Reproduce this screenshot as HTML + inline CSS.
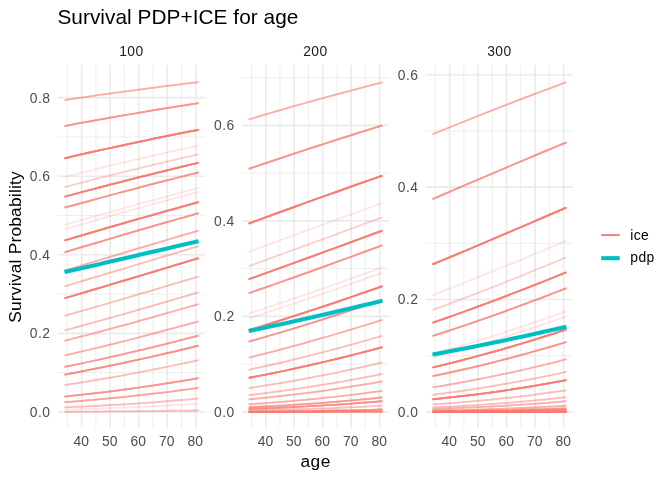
<!DOCTYPE html>
<html><head><meta charset="utf-8"><title>Survival PDP+ICE for age</title>
<style>html,body{margin:0;padding:0;background:#fff}svg{display:block}</style></head>
<body>
<svg width="672" height="480" viewBox="0 0 672 480" font-family="'Liberation Sans', sans-serif">
<rect width="672" height="480" fill="#fff"/>
<g stroke="#ebebeb"><line x1="57.8" x2="205.3" y1="372.59" y2="372.59" stroke-width="0.84"/><line x1="57.8" x2="205.3" y1="294.05" y2="294.05" stroke-width="0.84"/><line x1="57.8" x2="205.3" y1="215.51" y2="215.51" stroke-width="0.84"/><line x1="57.8" x2="205.3" y1="136.97" y2="136.97" stroke-width="0.84"/><line x1="67.36" x2="67.36" y1="65.0" y2="428.15" stroke-width="0.84"/><line x1="95.89" x2="95.89" y1="65.0" y2="428.15" stroke-width="0.84"/><line x1="124.42" x2="124.42" y1="65.0" y2="428.15" stroke-width="0.84"/><line x1="152.95" x2="152.95" y1="65.0" y2="428.15" stroke-width="0.84"/><line x1="181.48" x2="181.48" y1="65.0" y2="428.15" stroke-width="0.84"/><line x1="57.8" x2="205.3" y1="411.86" y2="411.86" stroke-width="1.68"/><line x1="57.8" x2="205.3" y1="333.32" y2="333.32" stroke-width="1.68"/><line x1="57.8" x2="205.3" y1="254.78" y2="254.78" stroke-width="1.68"/><line x1="57.8" x2="205.3" y1="176.24" y2="176.24" stroke-width="1.68"/><line x1="57.8" x2="205.3" y1="97.70" y2="97.70" stroke-width="1.68"/><line x1="81.62" x2="81.62" y1="65.0" y2="428.15" stroke-width="1.68"/><line x1="110.15" x2="110.15" y1="65.0" y2="428.15" stroke-width="1.68"/><line x1="138.68" x2="138.68" y1="65.0" y2="428.15" stroke-width="1.68"/><line x1="167.21" x2="167.21" y1="65.0" y2="428.15" stroke-width="1.68"/><line x1="195.74" x2="195.74" y1="65.0" y2="428.15" stroke-width="1.68"/></g>
<g stroke="#ebebeb"><line x1="242.0" x2="389.1" y1="364.10" y2="364.10" stroke-width="0.84"/><line x1="242.0" x2="389.1" y1="268.58" y2="268.58" stroke-width="0.84"/><line x1="242.0" x2="389.1" y1="173.06" y2="173.06" stroke-width="0.84"/><line x1="242.0" x2="389.1" y1="77.54" y2="77.54" stroke-width="0.84"/><line x1="251.53" x2="251.53" y1="65.0" y2="428.15" stroke-width="0.84"/><line x1="279.98" x2="279.98" y1="65.0" y2="428.15" stroke-width="0.84"/><line x1="308.44" x2="308.44" y1="65.0" y2="428.15" stroke-width="0.84"/><line x1="336.89" x2="336.89" y1="65.0" y2="428.15" stroke-width="0.84"/><line x1="365.34" x2="365.34" y1="65.0" y2="428.15" stroke-width="0.84"/><line x1="242.0" x2="389.1" y1="411.86" y2="411.86" stroke-width="1.68"/><line x1="242.0" x2="389.1" y1="316.34" y2="316.34" stroke-width="1.68"/><line x1="242.0" x2="389.1" y1="220.82" y2="220.82" stroke-width="1.68"/><line x1="242.0" x2="389.1" y1="125.30" y2="125.30" stroke-width="1.68"/><line x1="265.76" x2="265.76" y1="65.0" y2="428.15" stroke-width="1.68"/><line x1="294.21" x2="294.21" y1="65.0" y2="428.15" stroke-width="1.68"/><line x1="322.66" x2="322.66" y1="65.0" y2="428.15" stroke-width="1.68"/><line x1="351.12" x2="351.12" y1="65.0" y2="428.15" stroke-width="1.68"/><line x1="379.57" x2="379.57" y1="65.0" y2="428.15" stroke-width="1.68"/></g>
<g stroke="#ebebeb"><line x1="425.8" x2="573.1" y1="355.67" y2="355.67" stroke-width="0.84"/><line x1="425.8" x2="573.1" y1="243.29" y2="243.29" stroke-width="0.84"/><line x1="425.8" x2="573.1" y1="130.91" y2="130.91" stroke-width="0.84"/><line x1="435.34" x2="435.34" y1="65.0" y2="428.15" stroke-width="0.84"/><line x1="463.84" x2="463.84" y1="65.0" y2="428.15" stroke-width="0.84"/><line x1="492.33" x2="492.33" y1="65.0" y2="428.15" stroke-width="0.84"/><line x1="520.82" x2="520.82" y1="65.0" y2="428.15" stroke-width="0.84"/><line x1="549.31" x2="549.31" y1="65.0" y2="428.15" stroke-width="0.84"/><line x1="425.8" x2="573.1" y1="411.86" y2="411.86" stroke-width="1.68"/><line x1="425.8" x2="573.1" y1="299.48" y2="299.48" stroke-width="1.68"/><line x1="425.8" x2="573.1" y1="187.10" y2="187.10" stroke-width="1.68"/><line x1="425.8" x2="573.1" y1="74.72" y2="74.72" stroke-width="1.68"/><line x1="449.59" x2="449.59" y1="65.0" y2="428.15" stroke-width="1.68"/><line x1="478.08" x2="478.08" y1="65.0" y2="428.15" stroke-width="1.68"/><line x1="506.57" x2="506.57" y1="65.0" y2="428.15" stroke-width="1.68"/><line x1="535.06" x2="535.06" y1="65.0" y2="428.15" stroke-width="1.68"/><line x1="563.56" x2="563.56" y1="65.0" y2="428.15" stroke-width="1.68"/></g>
<g fill="none" stroke="#F8766D" stroke-opacity="0.2" stroke-width="1.75"><polyline points="64.50,100.07 75.68,98.41 86.85,96.78 98.03,95.19 109.20,93.62 120.38,92.08 131.55,90.56 142.72,89.08 153.90,87.62 165.07,86.19 176.25,84.79 187.42,83.42 198.60,82.07"/><polyline points="64.50,100.07 75.68,98.41 86.85,96.78 98.03,95.19 109.20,93.62 120.38,92.08 131.55,90.56 142.72,89.08 153.90,87.62 165.07,86.19 176.25,84.79 187.42,83.42 198.60,82.07"/><polyline points="64.50,100.07 75.68,98.41 86.85,96.78 98.03,95.19 109.20,93.62 120.38,92.08 131.55,90.56 142.72,89.08 153.90,87.62 165.07,86.19 176.25,84.79 187.42,83.42 198.60,82.07"/><polyline points="64.50,100.07 75.68,98.41 86.85,96.78 98.03,95.19 109.20,93.62 120.38,92.08 131.55,90.56 142.72,89.08 153.90,87.62 165.07,86.19 176.25,84.79 187.42,83.42 198.60,82.07"/><polyline points="64.50,126.06 75.68,123.97 86.85,121.90 98.03,119.88 109.20,117.88 120.38,115.92 131.55,113.99 142.72,112.09 153.90,110.22 165.07,108.39 176.25,106.59 187.42,104.82 198.60,103.08"/><polyline points="64.50,126.06 75.68,123.97 86.85,121.90 98.03,119.88 109.20,117.88 120.38,115.92 131.55,113.99 142.72,112.09 153.90,110.22 165.07,108.39 176.25,106.59 187.42,104.82 198.60,103.08"/><polyline points="64.50,126.06 75.68,123.97 86.85,121.90 98.03,119.88 109.20,117.88 120.38,115.92 131.55,113.99 142.72,112.09 153.90,110.22 165.07,108.39 176.25,106.59 187.42,104.82 198.60,103.08"/><polyline points="64.50,126.06 75.68,123.97 86.85,121.90 98.03,119.88 109.20,117.88 120.38,115.92 131.55,113.99 142.72,112.09 153.90,110.22 165.07,108.39 176.25,106.59 187.42,104.82 198.60,103.08"/><polyline points="64.50,126.06 75.68,123.97 86.85,121.90 98.03,119.88 109.20,117.88 120.38,115.92 131.55,113.99 142.72,112.09 153.90,110.22 165.07,108.39 176.25,106.59 187.42,104.82 198.60,103.08"/><polyline points="64.50,126.06 75.68,123.97 86.85,121.90 98.03,119.88 109.20,117.88 120.38,115.92 131.55,113.99 142.72,112.09 153.90,110.22 165.07,108.39 176.25,106.59 187.42,104.82 198.60,103.08"/><polyline points="64.50,126.06 75.68,123.97 86.85,121.90 98.03,119.88 109.20,117.88 120.38,115.92 131.55,113.99 142.72,112.09 153.90,110.22 165.07,108.39 176.25,106.59 187.42,104.82 198.60,103.08"/><polyline points="64.50,158.28 75.68,155.72 86.85,153.19 98.03,150.69 109.20,148.23 120.38,145.81 131.55,143.41 142.72,141.06 153.90,138.73 165.07,136.44 176.25,134.19 187.42,131.97 198.60,129.78"/><polyline points="64.50,158.28 75.68,155.72 86.85,153.19 98.03,150.69 109.20,148.23 120.38,145.81 131.55,143.41 142.72,141.06 153.90,138.73 165.07,136.44 176.25,134.19 187.42,131.97 198.60,129.78"/><polyline points="64.50,158.28 75.68,155.72 86.85,153.19 98.03,150.69 109.20,148.23 120.38,145.81 131.55,143.41 142.72,141.06 153.90,138.73 165.07,136.44 176.25,134.19 187.42,131.97 198.60,129.78"/><polyline points="64.50,158.28 75.68,155.72 86.85,153.19 98.03,150.69 109.20,148.23 120.38,145.81 131.55,143.41 142.72,141.06 153.90,138.73 165.07,136.44 176.25,134.19 187.42,131.97 198.60,129.78"/><polyline points="64.50,158.28 75.68,155.72 86.85,153.19 98.03,150.69 109.20,148.23 120.38,145.81 131.55,143.41 142.72,141.06 153.90,138.73 165.07,136.44 176.25,134.19 187.42,131.97 198.60,129.78"/><polyline points="64.50,158.28 75.68,155.72 86.85,153.19 98.03,150.69 109.20,148.23 120.38,145.81 131.55,143.41 142.72,141.06 153.90,138.73 165.07,136.44 176.25,134.19 187.42,131.97 198.60,129.78"/><polyline points="64.50,158.28 75.68,155.72 86.85,153.19 98.03,150.69 109.20,148.23 120.38,145.81 131.55,143.41 142.72,141.06 153.90,138.73 165.07,136.44 176.25,134.19 187.42,131.97 198.60,129.78"/><polyline points="64.50,158.28 75.68,155.72 86.85,153.19 98.03,150.69 109.20,148.23 120.38,145.81 131.55,143.41 142.72,141.06 153.90,138.73 165.07,136.44 176.25,134.19 187.42,131.97 198.60,129.78"/><polyline points="64.50,158.28 75.68,155.72 86.85,153.19 98.03,150.69 109.20,148.23 120.38,145.81 131.55,143.41 142.72,141.06 153.90,138.73 165.07,136.44 176.25,134.19 187.42,131.97 198.60,129.78"/><polyline points="64.50,158.28 75.68,155.72 86.85,153.19 98.03,150.69 109.20,148.23 120.38,145.81 131.55,143.41 142.72,141.06 153.90,138.73 165.07,136.44 176.25,134.19 187.42,131.97 198.60,129.78"/><polyline points="64.50,158.28 75.68,155.72 86.85,153.19 98.03,150.69 109.20,148.23 120.38,145.81 131.55,143.41 142.72,141.06 153.90,138.73 165.07,136.44 176.25,134.19 187.42,131.97 198.60,129.78"/><polyline points="64.50,158.28 75.68,155.72 86.85,153.19 98.03,150.69 109.20,148.23 120.38,145.81 131.55,143.41 142.72,141.06 153.90,138.73 165.07,136.44 176.25,134.19 187.42,131.97 198.60,129.78"/><polyline points="64.50,158.28 75.68,155.72 86.85,153.19 98.03,150.69 109.20,148.23 120.38,145.81 131.55,143.41 142.72,141.06 153.90,138.73 165.07,136.44 176.25,134.19 187.42,131.97 198.60,129.78"/><polyline points="64.50,158.28 75.68,155.72 86.85,153.19 98.03,150.69 109.20,148.23 120.38,145.81 131.55,143.41 142.72,141.06 153.90,138.73 165.07,136.44 176.25,134.19 187.42,131.97 198.60,129.78"/><polyline points="64.50,176.90 75.68,174.11 86.85,171.35 98.03,168.62 109.20,165.93 120.38,163.27 131.55,160.64 142.72,158.04 153.90,155.48 165.07,152.96 176.25,150.47 187.42,148.01 198.60,145.59"/><polyline points="64.50,187.06 75.68,184.16 86.85,181.29 98.03,178.45 109.20,175.64 120.38,172.86 131.55,170.11 142.72,167.40 153.90,164.72 165.07,162.08 176.25,159.46 187.42,156.89 198.60,154.34"/><polyline points="64.50,187.06 75.68,184.16 86.85,181.29 98.03,178.45 109.20,175.64 120.38,172.86 131.55,170.11 142.72,167.40 153.90,164.72 165.07,162.08 176.25,159.46 187.42,156.89 198.60,154.34"/><polyline points="64.50,196.73 75.68,193.73 86.85,190.76 98.03,187.82 109.20,184.91 120.38,182.03 131.55,179.18 142.72,176.36 153.90,173.58 165.07,170.82 176.25,168.10 187.42,165.42 198.60,162.76"/><polyline points="64.50,196.73 75.68,193.73 86.85,190.76 98.03,187.82 109.20,184.91 120.38,182.03 131.55,179.18 142.72,176.36 153.90,173.58 165.07,170.82 176.25,168.10 187.42,165.42 198.60,162.76"/><polyline points="64.50,196.73 75.68,193.73 86.85,190.76 98.03,187.82 109.20,184.91 120.38,182.03 131.55,179.18 142.72,176.36 153.90,173.58 165.07,170.82 176.25,168.10 187.42,165.42 198.60,162.76"/><polyline points="64.50,196.73 75.68,193.73 86.85,190.76 98.03,187.82 109.20,184.91 120.38,182.03 131.55,179.18 142.72,176.36 153.90,173.58 165.07,170.82 176.25,168.10 187.42,165.42 198.60,162.76"/><polyline points="64.50,196.73 75.68,193.73 86.85,190.76 98.03,187.82 109.20,184.91 120.38,182.03 131.55,179.18 142.72,176.36 153.90,173.58 165.07,170.82 176.25,168.10 187.42,165.42 198.60,162.76"/><polyline points="64.50,196.73 75.68,193.73 86.85,190.76 98.03,187.82 109.20,184.91 120.38,182.03 131.55,179.18 142.72,176.36 153.90,173.58 165.07,170.82 176.25,168.10 187.42,165.42 198.60,162.76"/><polyline points="64.50,196.73 75.68,193.73 86.85,190.76 98.03,187.82 109.20,184.91 120.38,182.03 131.55,179.18 142.72,176.36 153.90,173.58 165.07,170.82 176.25,168.10 187.42,165.42 198.60,162.76"/><polyline points="64.50,196.73 75.68,193.73 86.85,190.76 98.03,187.82 109.20,184.91 120.38,182.03 131.55,179.18 142.72,176.36 153.90,173.58 165.07,170.82 176.25,168.10 187.42,165.42 198.60,162.76"/><polyline points="64.50,196.73 75.68,193.73 86.85,190.76 98.03,187.82 109.20,184.91 120.38,182.03 131.55,179.18 142.72,176.36 153.90,173.58 165.07,170.82 176.25,168.10 187.42,165.42 198.60,162.76"/><polyline points="64.50,196.73 75.68,193.73 86.85,190.76 98.03,187.82 109.20,184.91 120.38,182.03 131.55,179.18 142.72,176.36 153.90,173.58 165.07,170.82 176.25,168.10 187.42,165.42 198.60,162.76"/><polyline points="64.50,196.73 75.68,193.73 86.85,190.76 98.03,187.82 109.20,184.91 120.38,182.03 131.55,179.18 142.72,176.36 153.90,173.58 165.07,170.82 176.25,168.10 187.42,165.42 198.60,162.76"/><polyline points="64.50,196.73 75.68,193.73 86.85,190.76 98.03,187.82 109.20,184.91 120.38,182.03 131.55,179.18 142.72,176.36 153.90,173.58 165.07,170.82 176.25,168.10 187.42,165.42 198.60,162.76"/><polyline points="64.50,196.73 75.68,193.73 86.85,190.76 98.03,187.82 109.20,184.91 120.38,182.03 131.55,179.18 142.72,176.36 153.90,173.58 165.07,170.82 176.25,168.10 187.42,165.42 198.60,162.76"/><polyline points="64.50,207.71 75.68,204.62 86.85,201.55 98.03,198.51 109.20,195.49 120.38,192.50 131.55,189.55 142.72,186.62 153.90,183.72 165.07,180.85 176.25,178.02 187.42,175.21 198.60,172.44"/><polyline points="64.50,207.71 75.68,204.62 86.85,201.55 98.03,198.51 109.20,195.49 120.38,192.50 131.55,189.55 142.72,186.62 153.90,183.72 165.07,180.85 176.25,178.02 187.42,175.21 198.60,172.44"/><polyline points="64.50,207.71 75.68,204.62 86.85,201.55 98.03,198.51 109.20,195.49 120.38,192.50 131.55,189.55 142.72,186.62 153.90,183.72 165.07,180.85 176.25,178.02 187.42,175.21 198.60,172.44"/><polyline points="64.50,207.71 75.68,204.62 86.85,201.55 98.03,198.51 109.20,195.49 120.38,192.50 131.55,189.55 142.72,186.62 153.90,183.72 165.07,180.85 176.25,178.02 187.42,175.21 198.60,172.44"/><polyline points="64.50,207.71 75.68,204.62 86.85,201.55 98.03,198.51 109.20,195.49 120.38,192.50 131.55,189.55 142.72,186.62 153.90,183.72 165.07,180.85 176.25,178.02 187.42,175.21 198.60,172.44"/><polyline points="64.50,207.71 75.68,204.62 86.85,201.55 98.03,198.51 109.20,195.49 120.38,192.50 131.55,189.55 142.72,186.62 153.90,183.72 165.07,180.85 176.25,178.02 187.42,175.21 198.60,172.44"/><polyline points="64.50,207.71 75.68,204.62 86.85,201.55 98.03,198.51 109.20,195.49 120.38,192.50 131.55,189.55 142.72,186.62 153.90,183.72 165.07,180.85 176.25,178.02 187.42,175.21 198.60,172.44"/><polyline points="64.50,224.99 75.68,221.76 86.85,218.57 98.03,215.39 109.20,212.23 120.38,209.10 131.55,205.99 142.72,202.91 153.90,199.86 165.07,196.83 176.25,193.83 187.42,190.86 198.60,187.92"/><polyline points="64.50,229.29 75.68,226.04 86.85,222.81 98.03,219.61 109.20,216.42 120.38,213.26 131.55,210.12 142.72,207.00 153.90,203.91 165.07,200.85 176.25,197.81 187.42,194.81 198.60,191.82"/><polyline points="64.50,240.49 75.68,237.19 86.85,233.91 98.03,230.63 109.20,227.38 120.38,224.15 131.55,220.93 142.72,217.74 153.90,214.57 165.07,211.42 176.25,208.29 187.42,205.19 198.60,202.12"/><polyline points="64.50,240.49 75.68,237.19 86.85,233.91 98.03,230.63 109.20,227.38 120.38,224.15 131.55,220.93 142.72,217.74 153.90,214.57 165.07,211.42 176.25,208.29 187.42,205.19 198.60,202.12"/><polyline points="64.50,240.49 75.68,237.19 86.85,233.91 98.03,230.63 109.20,227.38 120.38,224.15 131.55,220.93 142.72,217.74 153.90,214.57 165.07,211.42 176.25,208.29 187.42,205.19 198.60,202.12"/><polyline points="64.50,240.49 75.68,237.19 86.85,233.91 98.03,230.63 109.20,227.38 120.38,224.15 131.55,220.93 142.72,217.74 153.90,214.57 165.07,211.42 176.25,208.29 187.42,205.19 198.60,202.12"/><polyline points="64.50,240.49 75.68,237.19 86.85,233.91 98.03,230.63 109.20,227.38 120.38,224.15 131.55,220.93 142.72,217.74 153.90,214.57 165.07,211.42 176.25,208.29 187.42,205.19 198.60,202.12"/><polyline points="64.50,240.49 75.68,237.19 86.85,233.91 98.03,230.63 109.20,227.38 120.38,224.15 131.55,220.93 142.72,217.74 153.90,214.57 165.07,211.42 176.25,208.29 187.42,205.19 198.60,202.12"/><polyline points="64.50,240.49 75.68,237.19 86.85,233.91 98.03,230.63 109.20,227.38 120.38,224.15 131.55,220.93 142.72,217.74 153.90,214.57 165.07,211.42 176.25,208.29 187.42,205.19 198.60,202.12"/><polyline points="64.50,240.49 75.68,237.19 86.85,233.91 98.03,230.63 109.20,227.38 120.38,224.15 131.55,220.93 142.72,217.74 153.90,214.57 165.07,211.42 176.25,208.29 187.42,205.19 198.60,202.12"/><polyline points="64.50,240.49 75.68,237.19 86.85,233.91 98.03,230.63 109.20,227.38 120.38,224.15 131.55,220.93 142.72,217.74 153.90,214.57 165.07,211.42 176.25,208.29 187.42,205.19 198.60,202.12"/><polyline points="64.50,240.49 75.68,237.19 86.85,233.91 98.03,230.63 109.20,227.38 120.38,224.15 131.55,220.93 142.72,217.74 153.90,214.57 165.07,211.42 176.25,208.29 187.42,205.19 198.60,202.12"/><polyline points="64.50,240.49 75.68,237.19 86.85,233.91 98.03,230.63 109.20,227.38 120.38,224.15 131.55,220.93 142.72,217.74 153.90,214.57 165.07,211.42 176.25,208.29 187.42,205.19 198.60,202.12"/><polyline points="64.50,240.49 75.68,237.19 86.85,233.91 98.03,230.63 109.20,227.38 120.38,224.15 131.55,220.93 142.72,217.74 153.90,214.57 165.07,211.42 176.25,208.29 187.42,205.19 198.60,202.12"/><polyline points="64.50,240.49 75.68,237.19 86.85,233.91 98.03,230.63 109.20,227.38 120.38,224.15 131.55,220.93 142.72,217.74 153.90,214.57 165.07,211.42 176.25,208.29 187.42,205.19 198.60,202.12"/><polyline points="64.50,252.29 75.68,248.94 86.85,245.61 98.03,242.29 109.20,238.98 120.38,235.69 131.55,232.41 142.72,229.15 153.90,225.90 165.07,222.68 176.25,219.47 187.42,216.29 198.60,213.12"/><polyline points="64.50,252.29 75.68,248.94 86.85,245.61 98.03,242.29 109.20,238.98 120.38,235.69 131.55,232.41 142.72,229.15 153.90,225.90 165.07,222.68 176.25,219.47 187.42,216.29 198.60,213.12"/><polyline points="64.50,252.29 75.68,248.94 86.85,245.61 98.03,242.29 109.20,238.98 120.38,235.69 131.55,232.41 142.72,229.15 153.90,225.90 165.07,222.68 176.25,219.47 187.42,216.29 198.60,213.12"/><polyline points="64.50,252.29 75.68,248.94 86.85,245.61 98.03,242.29 109.20,238.98 120.38,235.69 131.55,232.41 142.72,229.15 153.90,225.90 165.07,222.68 176.25,219.47 187.42,216.29 198.60,213.12"/><polyline points="64.50,252.29 75.68,248.94 86.85,245.61 98.03,242.29 109.20,238.98 120.38,235.69 131.55,232.41 142.72,229.15 153.90,225.90 165.07,222.68 176.25,219.47 187.42,216.29 198.60,213.12"/><polyline points="64.50,252.29 75.68,248.94 86.85,245.61 98.03,242.29 109.20,238.98 120.38,235.69 131.55,232.41 142.72,229.15 153.90,225.90 165.07,222.68 176.25,219.47 187.42,216.29 198.60,213.12"/><polyline points="64.50,252.29 75.68,248.94 86.85,245.61 98.03,242.29 109.20,238.98 120.38,235.69 131.55,232.41 142.72,229.15 153.90,225.90 165.07,222.68 176.25,219.47 187.42,216.29 198.60,213.12"/><polyline points="64.50,270.60 75.68,267.24 86.85,263.87 98.03,260.51 109.20,257.16 120.38,253.80 131.55,250.46 142.72,247.12 153.90,243.80 165.07,240.48 176.25,237.18 187.42,233.89 198.60,230.62"/><polyline points="64.50,270.60 75.68,267.24 86.85,263.87 98.03,260.51 109.20,257.16 120.38,253.80 131.55,250.46 142.72,247.12 153.90,243.80 165.07,240.48 176.25,237.18 187.42,233.89 198.60,230.62"/><polyline points="64.50,270.60 75.68,267.24 86.85,263.87 98.03,260.51 109.20,257.16 120.38,253.80 131.55,250.46 142.72,247.12 153.90,243.80 165.07,240.48 176.25,237.18 187.42,233.89 198.60,230.62"/><polyline points="64.50,270.60 75.68,267.24 86.85,263.87 98.03,260.51 109.20,257.16 120.38,253.80 131.55,250.46 142.72,247.12 153.90,243.80 165.07,240.48 176.25,237.18 187.42,233.89 198.60,230.62"/><polyline points="64.50,286.36 75.68,283.03 86.85,279.68 98.03,276.32 109.20,272.96 120.38,269.60 131.55,266.24 142.72,262.87 153.90,259.51 165.07,256.16 176.25,252.81 187.42,249.46 198.60,246.13"/><polyline points="64.50,286.36 75.68,283.03 86.85,279.68 98.03,276.32 109.20,272.96 120.38,269.60 131.55,266.24 142.72,262.87 153.90,259.51 165.07,256.16 176.25,252.81 187.42,249.46 198.60,246.13"/><polyline points="64.50,286.36 75.68,283.03 86.85,279.68 98.03,276.32 109.20,272.96 120.38,269.60 131.55,266.24 142.72,262.87 153.90,259.51 165.07,256.16 176.25,252.81 187.42,249.46 198.60,246.13"/><polyline points="64.50,298.27 75.68,294.98 86.85,291.68 98.03,288.36 109.20,285.02 120.38,281.68 131.55,278.33 142.72,274.97 153.90,271.61 165.07,268.25 176.25,264.89 187.42,261.52 198.60,258.16"/><polyline points="64.50,298.27 75.68,294.98 86.85,291.68 98.03,288.36 109.20,285.02 120.38,281.68 131.55,278.33 142.72,274.97 153.90,271.61 165.07,268.25 176.25,264.89 187.42,261.52 198.60,258.16"/><polyline points="64.50,298.27 75.68,294.98 86.85,291.68 98.03,288.36 109.20,285.02 120.38,281.68 131.55,278.33 142.72,274.97 153.90,271.61 165.07,268.25 176.25,264.89 187.42,261.52 198.60,258.16"/><polyline points="64.50,298.27 75.68,294.98 86.85,291.68 98.03,288.36 109.20,285.02 120.38,281.68 131.55,278.33 142.72,274.97 153.90,271.61 165.07,268.25 176.25,264.89 187.42,261.52 198.60,258.16"/><polyline points="64.50,298.27 75.68,294.98 86.85,291.68 98.03,288.36 109.20,285.02 120.38,281.68 131.55,278.33 142.72,274.97 153.90,271.61 165.07,268.25 176.25,264.89 187.42,261.52 198.60,258.16"/><polyline points="64.50,298.27 75.68,294.98 86.85,291.68 98.03,288.36 109.20,285.02 120.38,281.68 131.55,278.33 142.72,274.97 153.90,271.61 165.07,268.25 176.25,264.89 187.42,261.52 198.60,258.16"/><polyline points="64.50,298.27 75.68,294.98 86.85,291.68 98.03,288.36 109.20,285.02 120.38,281.68 131.55,278.33 142.72,274.97 153.90,271.61 165.07,268.25 176.25,264.89 187.42,261.52 198.60,258.16"/><polyline points="64.50,298.27 75.68,294.98 86.85,291.68 98.03,288.36 109.20,285.02 120.38,281.68 131.55,278.33 142.72,274.97 153.90,271.61 165.07,268.25 176.25,264.89 187.42,261.52 198.60,258.16"/><polyline points="64.50,298.27 75.68,294.98 86.85,291.68 98.03,288.36 109.20,285.02 120.38,281.68 131.55,278.33 142.72,274.97 153.90,271.61 165.07,268.25 176.25,264.89 187.42,261.52 198.60,258.16"/><polyline points="64.50,298.27 75.68,294.98 86.85,291.68 98.03,288.36 109.20,285.02 120.38,281.68 131.55,278.33 142.72,274.97 153.90,271.61 165.07,268.25 176.25,264.89 187.42,261.52 198.60,258.16"/><polyline points="64.50,298.27 75.68,294.98 86.85,291.68 98.03,288.36 109.20,285.02 120.38,281.68 131.55,278.33 142.72,274.97 153.90,271.61 165.07,268.25 176.25,264.89 187.42,261.52 198.60,258.16"/><polyline points="64.50,298.27 75.68,294.98 86.85,291.68 98.03,288.36 109.20,285.02 120.38,281.68 131.55,278.33 142.72,274.97 153.90,271.61 165.07,268.25 176.25,264.89 187.42,261.52 198.60,258.16"/><polyline points="64.50,298.27 75.68,294.98 86.85,291.68 98.03,288.36 109.20,285.02 120.38,281.68 131.55,278.33 142.72,274.97 153.90,271.61 165.07,268.25 176.25,264.89 187.42,261.52 198.60,258.16"/><polyline points="64.50,315.82 75.68,312.65 86.85,309.46 98.03,306.24 109.20,303.00 120.38,299.73 131.55,296.45 142.72,293.15 153.90,289.84 165.07,286.51 176.25,283.17 187.42,279.82 198.60,276.47"/><polyline points="64.50,315.82 75.68,312.65 86.85,309.46 98.03,306.24 109.20,303.00 120.38,299.73 131.55,296.45 142.72,293.15 153.90,289.84 165.07,286.51 176.25,283.17 187.42,279.82 198.60,276.47"/><polyline points="64.50,315.82 75.68,312.65 86.85,309.46 98.03,306.24 109.20,303.00 120.38,299.73 131.55,296.45 142.72,293.15 153.90,289.84 165.07,286.51 176.25,283.17 187.42,279.82 198.60,276.47"/><polyline points="64.50,330.38 75.68,327.38 86.85,324.33 98.03,321.25 109.20,318.14 120.38,315.00 131.55,311.83 142.72,308.63 153.90,305.40 165.07,302.15 176.25,298.88 187.42,295.60 198.60,292.29"/><polyline points="64.50,330.38 75.68,327.38 86.85,324.33 98.03,321.25 109.20,318.14 120.38,315.00 131.55,311.83 142.72,308.63 153.90,305.40 165.07,302.15 176.25,298.88 187.42,295.60 198.60,292.29"/><polyline points="64.50,330.38 75.68,327.38 86.85,324.33 98.03,321.25 109.20,318.14 120.38,315.00 131.55,311.83 142.72,308.63 153.90,305.40 165.07,302.15 176.25,298.88 187.42,295.60 198.60,292.29"/><polyline points="64.50,340.81 75.68,337.95 86.85,335.05 98.03,332.11 109.20,329.13 120.38,326.11 131.55,323.05 142.72,319.96 153.90,316.83 165.07,313.68 176.25,310.49 187.42,307.28 198.60,304.05"/><polyline points="64.50,340.81 75.68,337.95 86.85,335.05 98.03,332.11 109.20,329.13 120.38,326.11 131.55,323.05 142.72,319.96 153.90,316.83 165.07,313.68 176.25,310.49 187.42,307.28 198.60,304.05"/><polyline points="64.50,340.81 75.68,337.95 86.85,335.05 98.03,332.11 109.20,329.13 120.38,326.11 131.55,323.05 142.72,319.96 153.90,316.83 165.07,313.68 176.25,310.49 187.42,307.28 198.60,304.05"/><polyline points="64.50,340.81 75.68,337.95 86.85,335.05 98.03,332.11 109.20,329.13 120.38,326.11 131.55,323.05 142.72,319.96 153.90,316.83 165.07,313.68 176.25,310.49 187.42,307.28 198.60,304.05"/><polyline points="64.50,355.48 75.68,352.90 86.85,350.27 98.03,347.58 109.20,344.85 120.38,342.06 131.55,339.23 142.72,336.35 153.90,333.42 165.07,330.46 176.25,327.45 187.42,324.41 198.60,321.33"/><polyline points="64.50,355.48 75.68,352.90 86.85,350.27 98.03,347.58 109.20,344.85 120.38,342.06 131.55,339.23 142.72,336.35 153.90,333.42 165.07,330.46 176.25,327.45 187.42,324.41 198.60,321.33"/><polyline points="64.50,355.48 75.68,352.90 86.85,350.27 98.03,347.58 109.20,344.85 120.38,342.06 131.55,339.23 142.72,336.35 153.90,333.42 165.07,330.46 176.25,327.45 187.42,324.41 198.60,321.33"/><polyline points="64.50,355.48 75.68,352.90 86.85,350.27 98.03,347.58 109.20,344.85 120.38,342.06 131.55,339.23 142.72,336.35 153.90,333.42 165.07,330.46 176.25,327.45 187.42,324.41 198.60,321.33"/><polyline points="64.50,366.91 75.68,364.60 86.85,362.24 98.03,359.81 109.20,357.33 120.38,354.79 131.55,352.20 142.72,349.55 153.90,346.85 165.07,344.10 176.25,341.30 187.42,338.45 198.60,335.56"/><polyline points="64.50,366.91 75.68,364.60 86.85,362.24 98.03,359.81 109.20,357.33 120.38,354.79 131.55,352.20 142.72,349.55 153.90,346.85 165.07,344.10 176.25,341.30 187.42,338.45 198.60,335.56"/><polyline points="64.50,366.91 75.68,364.60 86.85,362.24 98.03,359.81 109.20,357.33 120.38,354.79 131.55,352.20 142.72,349.55 153.90,346.85 165.07,344.10 176.25,341.30 187.42,338.45 198.60,335.56"/><polyline points="64.50,366.91 75.68,364.60 86.85,362.24 98.03,359.81 109.20,357.33 120.38,354.79 131.55,352.20 142.72,349.55 153.90,346.85 165.07,344.10 176.25,341.30 187.42,338.45 198.60,335.56"/><polyline points="64.50,366.91 75.68,364.60 86.85,362.24 98.03,359.81 109.20,357.33 120.38,354.79 131.55,352.20 142.72,349.55 153.90,346.85 165.07,344.10 176.25,341.30 187.42,338.45 198.60,335.56"/><polyline points="64.50,366.91 75.68,364.60 86.85,362.24 98.03,359.81 109.20,357.33 120.38,354.79 131.55,352.20 142.72,349.55 153.90,346.85 165.07,344.10 176.25,341.30 187.42,338.45 198.60,335.56"/><polyline points="64.50,374.62 75.68,372.54 86.85,370.40 98.03,368.19 109.20,365.92 120.38,363.59 131.55,361.20 142.72,358.75 153.90,356.25 165.07,353.68 176.25,351.07 187.42,348.40 198.60,345.67"/><polyline points="64.50,374.62 75.68,372.54 86.85,370.40 98.03,368.19 109.20,365.92 120.38,363.59 131.55,361.20 142.72,358.75 153.90,356.25 165.07,353.68 176.25,351.07 187.42,348.40 198.60,345.67"/><polyline points="64.50,374.62 75.68,372.54 86.85,370.40 98.03,368.19 109.20,365.92 120.38,363.59 131.55,361.20 142.72,358.75 153.90,356.25 165.07,353.68 176.25,351.07 187.42,348.40 198.60,345.67"/><polyline points="64.50,374.62 75.68,372.54 86.85,370.40 98.03,368.19 109.20,365.92 120.38,363.59 131.55,361.20 142.72,358.75 153.90,356.25 165.07,353.68 176.25,351.07 187.42,348.40 198.60,345.67"/><polyline points="64.50,374.62 75.68,372.54 86.85,370.40 98.03,368.19 109.20,365.92 120.38,363.59 131.55,361.20 142.72,358.75 153.90,356.25 165.07,353.68 176.25,351.07 187.42,348.40 198.60,345.67"/><polyline points="64.50,374.62 75.68,372.54 86.85,370.40 98.03,368.19 109.20,365.92 120.38,363.59 131.55,361.20 142.72,358.75 153.90,356.25 165.07,353.68 176.25,351.07 187.42,348.40 198.60,345.67"/><polyline points="64.50,374.62 75.68,372.54 86.85,370.40 98.03,368.19 109.20,365.92 120.38,363.59 131.55,361.20 142.72,358.75 153.90,356.25 165.07,353.68 176.25,351.07 187.42,348.40 198.60,345.67"/><polyline points="64.50,374.62 75.68,372.54 86.85,370.40 98.03,368.19 109.20,365.92 120.38,363.59 131.55,361.20 142.72,358.75 153.90,356.25 165.07,353.68 176.25,351.07 187.42,348.40 198.60,345.67"/><polyline points="64.50,385.03 75.68,383.31 86.85,381.53 98.03,379.68 109.20,377.77 120.38,375.79 131.55,373.75 142.72,371.64 153.90,369.47 165.07,367.24 176.25,364.94 187.42,362.59 198.60,360.17"/><polyline points="64.50,385.03 75.68,383.31 86.85,381.53 98.03,379.68 109.20,377.77 120.38,375.79 131.55,373.75 142.72,371.64 153.90,369.47 165.07,367.24 176.25,364.94 187.42,362.59 198.60,360.17"/><polyline points="64.50,385.03 75.68,383.31 86.85,381.53 98.03,379.68 109.20,377.77 120.38,375.79 131.55,373.75 142.72,371.64 153.90,369.47 165.07,367.24 176.25,364.94 187.42,362.59 198.60,360.17"/><polyline points="64.50,396.66 75.68,395.47 86.85,394.21 98.03,392.90 109.20,391.52 120.38,390.08 131.55,388.57 142.72,387.00 153.90,385.36 165.07,383.66 176.25,381.89 187.42,380.06 198.60,378.15"/><polyline points="64.50,396.66 75.68,395.47 86.85,394.21 98.03,392.90 109.20,391.52 120.38,390.08 131.55,388.57 142.72,387.00 153.90,385.36 165.07,383.66 176.25,381.89 187.42,380.06 198.60,378.15"/><polyline points="64.50,396.66 75.68,395.47 86.85,394.21 98.03,392.90 109.20,391.52 120.38,390.08 131.55,388.57 142.72,387.00 153.90,385.36 165.07,383.66 176.25,381.89 187.42,380.06 198.60,378.15"/><polyline points="64.50,396.66 75.68,395.47 86.85,394.21 98.03,392.90 109.20,391.52 120.38,390.08 131.55,388.57 142.72,387.00 153.90,385.36 165.07,383.66 176.25,381.89 187.42,380.06 198.60,378.15"/><polyline points="64.50,396.66 75.68,395.47 86.85,394.21 98.03,392.90 109.20,391.52 120.38,390.08 131.55,388.57 142.72,387.00 153.90,385.36 165.07,383.66 176.25,381.89 187.42,380.06 198.60,378.15"/><polyline points="64.50,396.66 75.68,395.47 86.85,394.21 98.03,392.90 109.20,391.52 120.38,390.08 131.55,388.57 142.72,387.00 153.90,385.36 165.07,383.66 176.25,381.89 187.42,380.06 198.60,378.15"/><polyline points="64.50,396.66 75.68,395.47 86.85,394.21 98.03,392.90 109.20,391.52 120.38,390.08 131.55,388.57 142.72,387.00 153.90,385.36 165.07,383.66 176.25,381.89 187.42,380.06 198.60,378.15"/><polyline points="64.50,402.22 75.68,401.35 86.85,400.42 98.03,399.44 109.20,398.41 120.38,397.31 131.55,396.15 142.72,394.94 153.90,393.66 165.07,392.31 176.25,390.91 187.42,389.44 198.60,387.90"/><polyline points="64.50,402.22 75.68,401.35 86.85,400.42 98.03,399.44 109.20,398.41 120.38,397.31 131.55,396.15 142.72,394.94 153.90,393.66 165.07,392.31 176.25,390.91 187.42,389.44 198.60,387.90"/><polyline points="64.50,402.22 75.68,401.35 86.85,400.42 98.03,399.44 109.20,398.41 120.38,397.31 131.55,396.15 142.72,394.94 153.90,393.66 165.07,392.31 176.25,390.91 187.42,389.44 198.60,387.90"/><polyline points="64.50,402.22 75.68,401.35 86.85,400.42 98.03,399.44 109.20,398.41 120.38,397.31 131.55,396.15 142.72,394.94 153.90,393.66 165.07,392.31 176.25,390.91 187.42,389.44 198.60,387.90"/><polyline points="64.50,402.22 75.68,401.35 86.85,400.42 98.03,399.44 109.20,398.41 120.38,397.31 131.55,396.15 142.72,394.94 153.90,393.66 165.07,392.31 176.25,390.91 187.42,389.44 198.60,387.90"/><polyline points="64.50,407.46 75.68,406.96 86.85,406.43 98.03,405.85 109.20,405.23 120.38,404.57 131.55,403.85 142.72,403.09 153.90,402.28 165.07,401.41 176.25,400.49 187.42,399.51 198.60,398.48"/><polyline points="64.50,407.46 75.68,406.96 86.85,406.43 98.03,405.85 109.20,405.23 120.38,404.57 131.55,403.85 142.72,403.09 153.90,402.28 165.07,401.41 176.25,400.49 187.42,399.51 198.60,398.48"/><polyline points="64.50,407.46 75.68,406.96 86.85,406.43 98.03,405.85 109.20,405.23 120.38,404.57 131.55,403.85 142.72,403.09 153.90,402.28 165.07,401.41 176.25,400.49 187.42,399.51 198.60,398.48"/><polyline points="64.50,409.56 75.68,409.25 86.85,408.92 98.03,408.55 109.20,408.15 120.38,407.71 131.55,407.24 142.72,406.72 153.90,406.17 165.07,405.58 176.25,404.93 187.42,404.25 198.60,403.51"/><polyline points="64.50,411.75 75.68,411.70 86.85,411.64 98.03,411.57 109.20,411.49 120.38,411.40 131.55,411.30 142.72,411.18 153.90,411.05 165.07,410.90 176.25,410.74 187.42,410.56 198.60,410.36"/><polyline points="64.50,411.75 75.68,411.70 86.85,411.64 98.03,411.57 109.20,411.49 120.38,411.40 131.55,411.30 142.72,411.18 153.90,411.05 165.07,410.90 176.25,410.74 187.42,410.56 198.60,410.36"/><polyline points="64.50,411.75 75.68,411.70 86.85,411.64 98.03,411.57 109.20,411.49 120.38,411.40 131.55,411.30 142.72,411.18 153.90,411.05 165.07,410.90 176.25,410.74 187.42,410.56 198.60,410.36"/></g>
<polyline points="64.50,272.03 75.68,269.49 86.85,266.93 98.03,264.38 109.20,261.81 120.38,259.24 131.55,256.67 142.72,254.09 153.90,251.51 165.07,248.93 176.25,246.35 187.42,243.76 198.60,241.18" fill="none" stroke="#00BFC4" stroke-width="4.1"/>
<g fill="none" stroke="#F8766D" stroke-opacity="0.2" stroke-width="1.75"><polyline points="248.69,119.47 259.83,116.15 270.97,112.87 282.12,109.63 293.26,106.44 304.41,103.28 315.55,100.16 326.69,97.09 337.84,94.06 348.98,91.07 360.13,88.12 371.27,85.21 382.41,82.34"/><polyline points="248.69,119.47 259.83,116.15 270.97,112.87 282.12,109.63 293.26,106.44 304.41,103.28 315.55,100.16 326.69,97.09 337.84,94.06 348.98,91.07 360.13,88.12 371.27,85.21 382.41,82.34"/><polyline points="248.69,119.47 259.83,116.15 270.97,112.87 282.12,109.63 293.26,106.44 304.41,103.28 315.55,100.16 326.69,97.09 337.84,94.06 348.98,91.07 360.13,88.12 371.27,85.21 382.41,82.34"/><polyline points="248.69,119.47 259.83,116.15 270.97,112.87 282.12,109.63 293.26,106.44 304.41,103.28 315.55,100.16 326.69,97.09 337.84,94.06 348.98,91.07 360.13,88.12 371.27,85.21 382.41,82.34"/><polyline points="248.69,168.94 259.83,165.14 270.97,161.36 282.12,157.61 293.26,153.90 304.41,150.22 315.55,146.57 326.69,142.96 337.84,139.38 348.98,135.84 360.13,132.34 371.27,128.87 382.41,125.44"/><polyline points="248.69,168.94 259.83,165.14 270.97,161.36 282.12,157.61 293.26,153.90 304.41,150.22 315.55,146.57 326.69,142.96 337.84,139.38 348.98,135.84 360.13,132.34 371.27,128.87 382.41,125.44"/><polyline points="248.69,168.94 259.83,165.14 270.97,161.36 282.12,157.61 293.26,153.90 304.41,150.22 315.55,146.57 326.69,142.96 337.84,139.38 348.98,135.84 360.13,132.34 371.27,128.87 382.41,125.44"/><polyline points="248.69,168.94 259.83,165.14 270.97,161.36 282.12,157.61 293.26,153.90 304.41,150.22 315.55,146.57 326.69,142.96 337.84,139.38 348.98,135.84 360.13,132.34 371.27,128.87 382.41,125.44"/><polyline points="248.69,168.94 259.83,165.14 270.97,161.36 282.12,157.61 293.26,153.90 304.41,150.22 315.55,146.57 326.69,142.96 337.84,139.38 348.98,135.84 360.13,132.34 371.27,128.87 382.41,125.44"/><polyline points="248.69,168.94 259.83,165.14 270.97,161.36 282.12,157.61 293.26,153.90 304.41,150.22 315.55,146.57 326.69,142.96 337.84,139.38 348.98,135.84 360.13,132.34 371.27,128.87 382.41,125.44"/><polyline points="248.69,168.94 259.83,165.14 270.97,161.36 282.12,157.61 293.26,153.90 304.41,150.22 315.55,146.57 326.69,142.96 337.84,139.38 348.98,135.84 360.13,132.34 371.27,128.87 382.41,125.44"/><polyline points="248.69,223.58 259.83,219.50 270.97,215.43 282.12,211.37 293.26,207.33 304.41,203.30 315.55,199.28 326.69,195.29 337.84,191.31 348.98,187.35 360.13,183.42 371.27,179.51 382.41,175.63"/><polyline points="248.69,223.58 259.83,219.50 270.97,215.43 282.12,211.37 293.26,207.33 304.41,203.30 315.55,199.28 326.69,195.29 337.84,191.31 348.98,187.35 360.13,183.42 371.27,179.51 382.41,175.63"/><polyline points="248.69,223.58 259.83,219.50 270.97,215.43 282.12,211.37 293.26,207.33 304.41,203.30 315.55,199.28 326.69,195.29 337.84,191.31 348.98,187.35 360.13,183.42 371.27,179.51 382.41,175.63"/><polyline points="248.69,223.58 259.83,219.50 270.97,215.43 282.12,211.37 293.26,207.33 304.41,203.30 315.55,199.28 326.69,195.29 337.84,191.31 348.98,187.35 360.13,183.42 371.27,179.51 382.41,175.63"/><polyline points="248.69,223.58 259.83,219.50 270.97,215.43 282.12,211.37 293.26,207.33 304.41,203.30 315.55,199.28 326.69,195.29 337.84,191.31 348.98,187.35 360.13,183.42 371.27,179.51 382.41,175.63"/><polyline points="248.69,223.58 259.83,219.50 270.97,215.43 282.12,211.37 293.26,207.33 304.41,203.30 315.55,199.28 326.69,195.29 337.84,191.31 348.98,187.35 360.13,183.42 371.27,179.51 382.41,175.63"/><polyline points="248.69,223.58 259.83,219.50 270.97,215.43 282.12,211.37 293.26,207.33 304.41,203.30 315.55,199.28 326.69,195.29 337.84,191.31 348.98,187.35 360.13,183.42 371.27,179.51 382.41,175.63"/><polyline points="248.69,223.58 259.83,219.50 270.97,215.43 282.12,211.37 293.26,207.33 304.41,203.30 315.55,199.28 326.69,195.29 337.84,191.31 348.98,187.35 360.13,183.42 371.27,179.51 382.41,175.63"/><polyline points="248.69,223.58 259.83,219.50 270.97,215.43 282.12,211.37 293.26,207.33 304.41,203.30 315.55,199.28 326.69,195.29 337.84,191.31 348.98,187.35 360.13,183.42 371.27,179.51 382.41,175.63"/><polyline points="248.69,223.58 259.83,219.50 270.97,215.43 282.12,211.37 293.26,207.33 304.41,203.30 315.55,199.28 326.69,195.29 337.84,191.31 348.98,187.35 360.13,183.42 371.27,179.51 382.41,175.63"/><polyline points="248.69,223.58 259.83,219.50 270.97,215.43 282.12,211.37 293.26,207.33 304.41,203.30 315.55,199.28 326.69,195.29 337.84,191.31 348.98,187.35 360.13,183.42 371.27,179.51 382.41,175.63"/><polyline points="248.69,223.58 259.83,219.50 270.97,215.43 282.12,211.37 293.26,207.33 304.41,203.30 315.55,199.28 326.69,195.29 337.84,191.31 348.98,187.35 360.13,183.42 371.27,179.51 382.41,175.63"/><polyline points="248.69,223.58 259.83,219.50 270.97,215.43 282.12,211.37 293.26,207.33 304.41,203.30 315.55,199.28 326.69,195.29 337.84,191.31 348.98,187.35 360.13,183.42 371.27,179.51 382.41,175.63"/><polyline points="248.69,223.58 259.83,219.50 270.97,215.43 282.12,211.37 293.26,207.33 304.41,203.30 315.55,199.28 326.69,195.29 337.84,191.31 348.98,187.35 360.13,183.42 371.27,179.51 382.41,175.63"/><polyline points="248.69,251.81 259.83,247.73 270.97,243.64 282.12,239.55 293.26,235.46 304.41,231.37 315.55,227.28 326.69,223.20 337.84,219.13 348.98,215.06 360.13,211.00 371.27,206.96 382.41,202.93"/><polyline points="248.69,266.19 259.83,262.16 270.97,258.11 282.12,254.04 293.26,249.97 304.41,245.89 315.55,241.80 326.69,237.71 337.84,233.62 348.98,229.53 360.13,225.44 371.27,221.36 382.41,217.29"/><polyline points="248.69,266.19 259.83,262.16 270.97,258.11 282.12,254.04 293.26,249.97 304.41,245.89 315.55,241.80 326.69,237.71 337.84,233.62 348.98,229.53 360.13,225.44 371.27,221.36 382.41,217.29"/><polyline points="248.69,279.22 259.83,275.25 270.97,271.25 282.12,267.24 293.26,263.21 304.41,259.16 315.55,255.10 326.69,251.03 337.84,246.95 348.98,242.86 360.13,238.77 371.27,234.68 382.41,230.59"/><polyline points="248.69,279.22 259.83,275.25 270.97,271.25 282.12,267.24 293.26,263.21 304.41,259.16 315.55,255.10 326.69,251.03 337.84,246.95 348.98,242.86 360.13,238.77 371.27,234.68 382.41,230.59"/><polyline points="248.69,279.22 259.83,275.25 270.97,271.25 282.12,267.24 293.26,263.21 304.41,259.16 315.55,255.10 326.69,251.03 337.84,246.95 348.98,242.86 360.13,238.77 371.27,234.68 382.41,230.59"/><polyline points="248.69,279.22 259.83,275.25 270.97,271.25 282.12,267.24 293.26,263.21 304.41,259.16 315.55,255.10 326.69,251.03 337.84,246.95 348.98,242.86 360.13,238.77 371.27,234.68 382.41,230.59"/><polyline points="248.69,279.22 259.83,275.25 270.97,271.25 282.12,267.24 293.26,263.21 304.41,259.16 315.55,255.10 326.69,251.03 337.84,246.95 348.98,242.86 360.13,238.77 371.27,234.68 382.41,230.59"/><polyline points="248.69,279.22 259.83,275.25 270.97,271.25 282.12,267.24 293.26,263.21 304.41,259.16 315.55,255.10 326.69,251.03 337.84,246.95 348.98,242.86 360.13,238.77 371.27,234.68 382.41,230.59"/><polyline points="248.69,279.22 259.83,275.25 270.97,271.25 282.12,267.24 293.26,263.21 304.41,259.16 315.55,255.10 326.69,251.03 337.84,246.95 348.98,242.86 360.13,238.77 371.27,234.68 382.41,230.59"/><polyline points="248.69,279.22 259.83,275.25 270.97,271.25 282.12,267.24 293.26,263.21 304.41,259.16 315.55,255.10 326.69,251.03 337.84,246.95 348.98,242.86 360.13,238.77 371.27,234.68 382.41,230.59"/><polyline points="248.69,279.22 259.83,275.25 270.97,271.25 282.12,267.24 293.26,263.21 304.41,259.16 315.55,255.10 326.69,251.03 337.84,246.95 348.98,242.86 360.13,238.77 371.27,234.68 382.41,230.59"/><polyline points="248.69,279.22 259.83,275.25 270.97,271.25 282.12,267.24 293.26,263.21 304.41,259.16 315.55,255.10 326.69,251.03 337.84,246.95 348.98,242.86 360.13,238.77 371.27,234.68 382.41,230.59"/><polyline points="248.69,279.22 259.83,275.25 270.97,271.25 282.12,267.24 293.26,263.21 304.41,259.16 315.55,255.10 326.69,251.03 337.84,246.95 348.98,242.86 360.13,238.77 371.27,234.68 382.41,230.59"/><polyline points="248.69,279.22 259.83,275.25 270.97,271.25 282.12,267.24 293.26,263.21 304.41,259.16 315.55,255.10 326.69,251.03 337.84,246.95 348.98,242.86 360.13,238.77 371.27,234.68 382.41,230.59"/><polyline points="248.69,279.22 259.83,275.25 270.97,271.25 282.12,267.24 293.26,263.21 304.41,259.16 315.55,255.10 326.69,251.03 337.84,246.95 348.98,242.86 360.13,238.77 371.27,234.68 382.41,230.59"/><polyline points="248.69,293.23 259.83,289.37 270.97,285.47 282.12,281.54 293.26,277.58 304.41,273.60 315.55,269.60 326.69,265.58 337.84,261.54 348.98,257.49 360.13,253.42 371.27,249.35 382.41,245.26"/><polyline points="248.69,293.23 259.83,289.37 270.97,285.47 282.12,281.54 293.26,277.58 304.41,273.60 315.55,269.60 326.69,265.58 337.84,261.54 348.98,257.49 360.13,253.42 371.27,249.35 382.41,245.26"/><polyline points="248.69,293.23 259.83,289.37 270.97,285.47 282.12,281.54 293.26,277.58 304.41,273.60 315.55,269.60 326.69,265.58 337.84,261.54 348.98,257.49 360.13,253.42 371.27,249.35 382.41,245.26"/><polyline points="248.69,293.23 259.83,289.37 270.97,285.47 282.12,281.54 293.26,277.58 304.41,273.60 315.55,269.60 326.69,265.58 337.84,261.54 348.98,257.49 360.13,253.42 371.27,249.35 382.41,245.26"/><polyline points="248.69,293.23 259.83,289.37 270.97,285.47 282.12,281.54 293.26,277.58 304.41,273.60 315.55,269.60 326.69,265.58 337.84,261.54 348.98,257.49 360.13,253.42 371.27,249.35 382.41,245.26"/><polyline points="248.69,293.23 259.83,289.37 270.97,285.47 282.12,281.54 293.26,277.58 304.41,273.60 315.55,269.60 326.69,265.58 337.84,261.54 348.98,257.49 360.13,253.42 371.27,249.35 382.41,245.26"/><polyline points="248.69,293.23 259.83,289.37 270.97,285.47 282.12,281.54 293.26,277.58 304.41,273.60 315.55,269.60 326.69,265.58 337.84,261.54 348.98,257.49 360.13,253.42 371.27,249.35 382.41,245.26"/><polyline points="248.69,313.60 259.83,309.96 270.97,306.27 282.12,302.53 293.26,298.76 304.41,294.94 315.55,291.09 326.69,287.21 337.84,283.29 348.98,279.35 360.13,275.38 371.27,271.39 382.41,267.37"/><polyline points="248.69,318.36 259.83,314.78 270.97,311.15 282.12,307.47 293.26,303.75 304.41,299.99 315.55,296.19 326.69,292.35 337.84,288.48 348.98,284.57 360.13,280.64 371.27,276.68 382.41,272.69"/><polyline points="248.69,330.17 259.83,326.78 270.97,323.33 282.12,319.82 293.26,316.27 304.41,312.66 315.55,309.00 326.69,305.30 337.84,301.55 348.98,297.77 360.13,293.95 371.27,290.09 382.41,286.19"/><polyline points="248.69,330.17 259.83,326.78 270.97,323.33 282.12,319.82 293.26,316.27 304.41,312.66 315.55,309.00 326.69,305.30 337.84,301.55 348.98,297.77 360.13,293.95 371.27,290.09 382.41,286.19"/><polyline points="248.69,330.17 259.83,326.78 270.97,323.33 282.12,319.82 293.26,316.27 304.41,312.66 315.55,309.00 326.69,305.30 337.84,301.55 348.98,297.77 360.13,293.95 371.27,290.09 382.41,286.19"/><polyline points="248.69,330.17 259.83,326.78 270.97,323.33 282.12,319.82 293.26,316.27 304.41,312.66 315.55,309.00 326.69,305.30 337.84,301.55 348.98,297.77 360.13,293.95 371.27,290.09 382.41,286.19"/><polyline points="248.69,330.17 259.83,326.78 270.97,323.33 282.12,319.82 293.26,316.27 304.41,312.66 315.55,309.00 326.69,305.30 337.84,301.55 348.98,297.77 360.13,293.95 371.27,290.09 382.41,286.19"/><polyline points="248.69,330.17 259.83,326.78 270.97,323.33 282.12,319.82 293.26,316.27 304.41,312.66 315.55,309.00 326.69,305.30 337.84,301.55 348.98,297.77 360.13,293.95 371.27,290.09 382.41,286.19"/><polyline points="248.69,330.17 259.83,326.78 270.97,323.33 282.12,319.82 293.26,316.27 304.41,312.66 315.55,309.00 326.69,305.30 337.84,301.55 348.98,297.77 360.13,293.95 371.27,290.09 382.41,286.19"/><polyline points="248.69,330.17 259.83,326.78 270.97,323.33 282.12,319.82 293.26,316.27 304.41,312.66 315.55,309.00 326.69,305.30 337.84,301.55 348.98,297.77 360.13,293.95 371.27,290.09 382.41,286.19"/><polyline points="248.69,330.17 259.83,326.78 270.97,323.33 282.12,319.82 293.26,316.27 304.41,312.66 315.55,309.00 326.69,305.30 337.84,301.55 348.98,297.77 360.13,293.95 371.27,290.09 382.41,286.19"/><polyline points="248.69,330.17 259.83,326.78 270.97,323.33 282.12,319.82 293.26,316.27 304.41,312.66 315.55,309.00 326.69,305.30 337.84,301.55 348.98,297.77 360.13,293.95 371.27,290.09 382.41,286.19"/><polyline points="248.69,330.17 259.83,326.78 270.97,323.33 282.12,319.82 293.26,316.27 304.41,312.66 315.55,309.00 326.69,305.30 337.84,301.55 348.98,297.77 360.13,293.95 371.27,290.09 382.41,286.19"/><polyline points="248.69,330.17 259.83,326.78 270.97,323.33 282.12,319.82 293.26,316.27 304.41,312.66 315.55,309.00 326.69,305.30 337.84,301.55 348.98,297.77 360.13,293.95 371.27,290.09 382.41,286.19"/><polyline points="248.69,330.17 259.83,326.78 270.97,323.33 282.12,319.82 293.26,316.27 304.41,312.66 315.55,309.00 326.69,305.30 337.84,301.55 348.98,297.77 360.13,293.95 371.27,290.09 382.41,286.19"/><polyline points="248.69,341.69 259.83,338.52 270.97,335.28 282.12,331.99 293.26,328.63 304.41,325.21 315.55,321.73 326.69,318.20 337.84,314.62 348.98,310.99 360.13,307.32 371.27,303.59 382.41,299.83"/><polyline points="248.69,341.69 259.83,338.52 270.97,335.28 282.12,331.99 293.26,328.63 304.41,325.21 315.55,321.73 326.69,318.20 337.84,314.62 348.98,310.99 360.13,307.32 371.27,303.59 382.41,299.83"/><polyline points="248.69,341.69 259.83,338.52 270.97,335.28 282.12,331.99 293.26,328.63 304.41,325.21 315.55,321.73 326.69,318.20 337.84,314.62 348.98,310.99 360.13,307.32 371.27,303.59 382.41,299.83"/><polyline points="248.69,341.69 259.83,338.52 270.97,335.28 282.12,331.99 293.26,328.63 304.41,325.21 315.55,321.73 326.69,318.20 337.84,314.62 348.98,310.99 360.13,307.32 371.27,303.59 382.41,299.83"/><polyline points="248.69,341.69 259.83,338.52 270.97,335.28 282.12,331.99 293.26,328.63 304.41,325.21 315.55,321.73 326.69,318.20 337.84,314.62 348.98,310.99 360.13,307.32 371.27,303.59 382.41,299.83"/><polyline points="248.69,341.69 259.83,338.52 270.97,335.28 282.12,331.99 293.26,328.63 304.41,325.21 315.55,321.73 326.69,318.20 337.84,314.62 348.98,310.99 360.13,307.32 371.27,303.59 382.41,299.83"/><polyline points="248.69,341.69 259.83,338.52 270.97,335.28 282.12,331.99 293.26,328.63 304.41,325.21 315.55,321.73 326.69,318.20 337.84,314.62 348.98,310.99 360.13,307.32 371.27,303.59 382.41,299.83"/><polyline points="248.69,357.76 259.83,354.97 270.97,352.11 282.12,349.18 293.26,346.18 304.41,343.11 315.55,339.96 326.69,336.76 337.84,333.49 348.98,330.16 360.13,326.76 371.27,323.32 382.41,319.81"/><polyline points="248.69,357.76 259.83,354.97 270.97,352.11 282.12,349.18 293.26,346.18 304.41,343.11 315.55,339.96 326.69,336.76 337.84,333.49 348.98,330.16 360.13,326.76 371.27,323.32 382.41,319.81"/><polyline points="248.69,357.76 259.83,354.97 270.97,352.11 282.12,349.18 293.26,346.18 304.41,343.11 315.55,339.96 326.69,336.76 337.84,333.49 348.98,330.16 360.13,326.76 371.27,323.32 382.41,319.81"/><polyline points="248.69,357.76 259.83,354.97 270.97,352.11 282.12,349.18 293.26,346.18 304.41,343.11 315.55,339.96 326.69,336.76 337.84,333.49 348.98,330.16 360.13,326.76 371.27,323.32 382.41,319.81"/><polyline points="248.69,369.83 259.83,367.41 270.97,364.91 282.12,362.33 293.26,359.67 304.41,356.94 315.55,354.13 326.69,351.25 337.84,348.29 348.98,345.27 360.13,342.18 371.27,339.02 382.41,335.79"/><polyline points="248.69,369.83 259.83,367.41 270.97,364.91 282.12,362.33 293.26,359.67 304.41,356.94 315.55,354.13 326.69,351.25 337.84,348.29 348.98,345.27 360.13,342.18 371.27,339.02 382.41,335.79"/><polyline points="248.69,369.83 259.83,367.41 270.97,364.91 282.12,362.33 293.26,359.67 304.41,356.94 315.55,354.13 326.69,351.25 337.84,348.29 348.98,345.27 360.13,342.18 371.27,339.02 382.41,335.79"/><polyline points="248.69,377.90 259.83,375.76 270.97,373.54 282.12,371.25 293.26,368.87 304.41,366.41 315.55,363.88 326.69,361.27 337.84,358.58 348.98,355.82 360.13,352.98 371.27,350.07 382.41,347.09"/><polyline points="248.69,377.90 259.83,375.76 270.97,373.54 282.12,371.25 293.26,368.87 304.41,366.41 315.55,363.88 326.69,361.27 337.84,358.58 348.98,355.82 360.13,352.98 371.27,350.07 382.41,347.09"/><polyline points="248.69,377.90 259.83,375.76 270.97,373.54 282.12,371.25 293.26,368.87 304.41,366.41 315.55,363.88 326.69,361.27 337.84,358.58 348.98,355.82 360.13,352.98 371.27,350.07 382.41,347.09"/><polyline points="248.69,377.90 259.83,375.76 270.97,373.54 282.12,371.25 293.26,368.87 304.41,366.41 315.55,363.88 326.69,361.27 337.84,358.58 348.98,355.82 360.13,352.98 371.27,350.07 382.41,347.09"/><polyline points="248.69,377.90 259.83,375.76 270.97,373.54 282.12,371.25 293.26,368.87 304.41,366.41 315.55,363.88 326.69,361.27 337.84,358.58 348.98,355.82 360.13,352.98 371.27,350.07 382.41,347.09"/><polyline points="248.69,377.90 259.83,375.76 270.97,373.54 282.12,371.25 293.26,368.87 304.41,366.41 315.55,363.88 326.69,361.27 337.84,358.58 348.98,355.82 360.13,352.98 371.27,350.07 382.41,347.09"/><polyline points="248.69,377.90 259.83,375.76 270.97,373.54 282.12,371.25 293.26,368.87 304.41,366.41 315.55,363.88 326.69,361.27 337.84,358.58 348.98,355.82 360.13,352.98 371.27,350.07 382.41,347.09"/><polyline points="248.69,377.90 259.83,375.76 270.97,373.54 282.12,371.25 293.26,368.87 304.41,366.41 315.55,363.88 326.69,361.27 337.84,358.58 348.98,355.82 360.13,352.98 371.27,350.07 382.41,347.09"/><polyline points="248.69,377.90 259.83,375.76 270.97,373.54 282.12,371.25 293.26,368.87 304.41,366.41 315.55,363.88 326.69,361.27 337.84,358.58 348.98,355.82 360.13,352.98 371.27,350.07 382.41,347.09"/><polyline points="248.69,377.90 259.83,375.76 270.97,373.54 282.12,371.25 293.26,368.87 304.41,366.41 315.55,363.88 326.69,361.27 337.84,358.58 348.98,355.82 360.13,352.98 371.27,350.07 382.41,347.09"/><polyline points="248.69,377.90 259.83,375.76 270.97,373.54 282.12,371.25 293.26,368.87 304.41,366.41 315.55,363.88 326.69,361.27 337.84,358.58 348.98,355.82 360.13,352.98 371.27,350.07 382.41,347.09"/><polyline points="248.69,377.90 259.83,375.76 270.97,373.54 282.12,371.25 293.26,368.87 304.41,366.41 315.55,363.88 326.69,361.27 337.84,358.58 348.98,355.82 360.13,352.98 371.27,350.07 382.41,347.09"/><polyline points="248.69,377.90 259.83,375.76 270.97,373.54 282.12,371.25 293.26,368.87 304.41,366.41 315.55,363.88 326.69,361.27 337.84,358.58 348.98,355.82 360.13,352.98 371.27,350.07 382.41,347.09"/><polyline points="248.69,388.14 259.83,386.43 270.97,384.65 282.12,382.79 293.26,380.85 304.41,378.82 315.55,376.72 326.69,374.54 337.84,372.28 348.98,369.94 360.13,367.52 371.27,365.02 382.41,362.44"/><polyline points="248.69,388.14 259.83,386.43 270.97,384.65 282.12,382.79 293.26,380.85 304.41,378.82 315.55,376.72 326.69,374.54 337.84,372.28 348.98,369.94 360.13,367.52 371.27,365.02 382.41,362.44"/><polyline points="248.69,388.14 259.83,386.43 270.97,384.65 282.12,382.79 293.26,380.85 304.41,378.82 315.55,376.72 326.69,374.54 337.84,372.28 348.98,369.94 360.13,367.52 371.27,365.02 382.41,362.44"/><polyline points="248.69,395.19 259.83,393.84 270.97,392.42 282.12,390.92 293.26,389.35 304.41,387.70 315.55,385.98 326.69,384.17 337.84,382.29 348.98,380.33 360.13,378.29 371.27,376.16 382.41,373.96"/><polyline points="248.69,395.19 259.83,393.84 270.97,392.42 282.12,390.92 293.26,389.35 304.41,387.70 315.55,385.98 326.69,384.17 337.84,382.29 348.98,380.33 360.13,378.29 371.27,376.16 382.41,373.96"/><polyline points="248.69,395.19 259.83,393.84 270.97,392.42 282.12,390.92 293.26,389.35 304.41,387.70 315.55,385.98 326.69,384.17 337.84,382.29 348.98,380.33 360.13,378.29 371.27,376.16 382.41,373.96"/><polyline points="248.69,399.44 259.83,398.34 270.97,397.18 282.12,395.94 293.26,394.63 304.41,393.26 315.55,391.80 326.69,390.28 337.84,388.67 348.98,386.99 360.13,385.23 371.27,383.40 382.41,381.48"/><polyline points="248.69,399.44 259.83,398.34 270.97,397.18 282.12,395.94 293.26,394.63 304.41,393.26 315.55,391.80 326.69,390.28 337.84,388.67 348.98,386.99 360.13,385.23 371.27,383.40 382.41,381.48"/><polyline points="248.69,399.44 259.83,398.34 270.97,397.18 282.12,395.94 293.26,394.63 304.41,393.26 315.55,391.80 326.69,390.28 337.84,388.67 348.98,386.99 360.13,385.23 371.27,383.40 382.41,381.48"/><polyline points="248.69,399.44 259.83,398.34 270.97,397.18 282.12,395.94 293.26,394.63 304.41,393.26 315.55,391.80 326.69,390.28 337.84,388.67 348.98,386.99 360.13,385.23 371.27,383.40 382.41,381.48"/><polyline points="248.69,404.33 259.83,403.56 270.97,402.74 282.12,401.86 293.26,400.91 304.41,399.91 315.55,398.84 326.69,397.70 337.84,396.50 348.98,395.22 360.13,393.88 371.27,392.46 382.41,390.96"/><polyline points="248.69,404.33 259.83,403.56 270.97,402.74 282.12,401.86 293.26,400.91 304.41,399.91 315.55,398.84 326.69,397.70 337.84,396.50 348.98,395.22 360.13,393.88 371.27,392.46 382.41,390.96"/><polyline points="248.69,404.33 259.83,403.56 270.97,402.74 282.12,401.86 293.26,400.91 304.41,399.91 315.55,398.84 326.69,397.70 337.84,396.50 348.98,395.22 360.13,393.88 371.27,392.46 382.41,390.96"/><polyline points="248.69,404.33 259.83,403.56 270.97,402.74 282.12,401.86 293.26,400.91 304.41,399.91 315.55,398.84 326.69,397.70 337.84,396.50 348.98,395.22 360.13,393.88 371.27,392.46 382.41,390.96"/><polyline points="248.69,407.27 259.83,406.74 270.97,406.16 282.12,405.53 293.26,404.86 304.41,404.13 315.55,403.35 326.69,402.51 337.84,401.61 348.98,400.65 360.13,399.63 371.27,398.54 382.41,397.38"/><polyline points="248.69,407.27 259.83,406.74 270.97,406.16 282.12,405.53 293.26,404.86 304.41,404.13 315.55,403.35 326.69,402.51 337.84,401.61 348.98,400.65 360.13,399.63 371.27,398.54 382.41,397.38"/><polyline points="248.69,407.27 259.83,406.74 270.97,406.16 282.12,405.53 293.26,404.86 304.41,404.13 315.55,403.35 326.69,402.51 337.84,401.61 348.98,400.65 360.13,399.63 371.27,398.54 382.41,397.38"/><polyline points="248.69,407.27 259.83,406.74 270.97,406.16 282.12,405.53 293.26,404.86 304.41,404.13 315.55,403.35 326.69,402.51 337.84,401.61 348.98,400.65 360.13,399.63 371.27,398.54 382.41,397.38"/><polyline points="248.69,407.27 259.83,406.74 270.97,406.16 282.12,405.53 293.26,404.86 304.41,404.13 315.55,403.35 326.69,402.51 337.84,401.61 348.98,400.65 360.13,399.63 371.27,398.54 382.41,397.38"/><polyline points="248.69,407.27 259.83,406.74 270.97,406.16 282.12,405.53 293.26,404.86 304.41,404.13 315.55,403.35 326.69,402.51 337.84,401.61 348.98,400.65 360.13,399.63 371.27,398.54 382.41,397.38"/><polyline points="248.69,408.84 259.83,408.45 270.97,408.02 282.12,407.56 293.26,407.05 304.41,406.50 315.55,405.90 326.69,405.25 337.84,404.55 348.98,403.80 360.13,402.99 371.27,402.13 382.41,401.20"/><polyline points="248.69,408.84 259.83,408.45 270.97,408.02 282.12,407.56 293.26,407.05 304.41,406.50 315.55,405.90 326.69,405.25 337.84,404.55 348.98,403.80 360.13,402.99 371.27,402.13 382.41,401.20"/><polyline points="248.69,408.84 259.83,408.45 270.97,408.02 282.12,407.56 293.26,407.05 304.41,406.50 315.55,405.90 326.69,405.25 337.84,404.55 348.98,403.80 360.13,402.99 371.27,402.13 382.41,401.20"/><polyline points="248.69,408.84 259.83,408.45 270.97,408.02 282.12,407.56 293.26,407.05 304.41,406.50 315.55,405.90 326.69,405.25 337.84,404.55 348.98,403.80 360.13,402.99 371.27,402.13 382.41,401.20"/><polyline points="248.69,408.84 259.83,408.45 270.97,408.02 282.12,407.56 293.26,407.05 304.41,406.50 315.55,405.90 326.69,405.25 337.84,404.55 348.98,403.80 360.13,402.99 371.27,402.13 382.41,401.20"/><polyline points="248.69,408.84 259.83,408.45 270.97,408.02 282.12,407.56 293.26,407.05 304.41,406.50 315.55,405.90 326.69,405.25 337.84,404.55 348.98,403.80 360.13,402.99 371.27,402.13 382.41,401.20"/><polyline points="248.69,408.84 259.83,408.45 270.97,408.02 282.12,407.56 293.26,407.05 304.41,406.50 315.55,405.90 326.69,405.25 337.84,404.55 348.98,403.80 360.13,402.99 371.27,402.13 382.41,401.20"/><polyline points="248.69,408.84 259.83,408.45 270.97,408.02 282.12,407.56 293.26,407.05 304.41,406.50 315.55,405.90 326.69,405.25 337.84,404.55 348.98,403.80 360.13,402.99 371.27,402.13 382.41,401.20"/><polyline points="248.69,410.44 259.83,410.22 270.97,409.97 282.12,409.69 293.26,409.39 304.41,409.05 315.55,408.68 326.69,408.27 337.84,407.83 348.98,407.35 360.13,406.82 371.27,406.25 382.41,405.63"/><polyline points="248.69,410.44 259.83,410.22 270.97,409.97 282.12,409.69 293.26,409.39 304.41,409.05 315.55,408.68 326.69,408.27 337.84,407.83 348.98,407.35 360.13,406.82 371.27,406.25 382.41,405.63"/><polyline points="248.69,410.44 259.83,410.22 270.97,409.97 282.12,409.69 293.26,409.39 304.41,409.05 315.55,408.68 326.69,408.27 337.84,407.83 348.98,407.35 360.13,406.82 371.27,406.25 382.41,405.63"/><polyline points="248.69,411.56 259.83,411.48 270.97,411.38 282.12,411.27 293.26,411.15 304.41,411.01 315.55,410.86 326.69,410.68 337.84,410.48 348.98,410.26 360.13,410.02 371.27,409.75 382.41,409.45"/><polyline points="248.69,411.56 259.83,411.48 270.97,411.38 282.12,411.27 293.26,411.15 304.41,411.01 315.55,410.86 326.69,410.68 337.84,410.48 348.98,410.26 360.13,410.02 371.27,409.75 382.41,409.45"/><polyline points="248.69,411.56 259.83,411.48 270.97,411.38 282.12,411.27 293.26,411.15 304.41,411.01 315.55,410.86 326.69,410.68 337.84,410.48 348.98,410.26 360.13,410.02 371.27,409.75 382.41,409.45"/><polyline points="248.69,411.56 259.83,411.48 270.97,411.38 282.12,411.27 293.26,411.15 304.41,411.01 315.55,410.86 326.69,410.68 337.84,410.48 348.98,410.26 360.13,410.02 371.27,409.75 382.41,409.45"/><polyline points="248.69,411.56 259.83,411.48 270.97,411.38 282.12,411.27 293.26,411.15 304.41,411.01 315.55,410.86 326.69,410.68 337.84,410.48 348.98,410.26 360.13,410.02 371.27,409.75 382.41,409.45"/><polyline points="248.69,411.56 259.83,411.48 270.97,411.38 282.12,411.27 293.26,411.15 304.41,411.01 315.55,410.86 326.69,410.68 337.84,410.48 348.98,410.26 360.13,410.02 371.27,409.75 382.41,409.45"/><polyline points="248.69,411.56 259.83,411.48 270.97,411.38 282.12,411.27 293.26,411.15 304.41,411.01 315.55,410.86 326.69,410.68 337.84,410.48 348.98,410.26 360.13,410.02 371.27,409.75 382.41,409.45"/><polyline points="248.69,411.85 259.83,411.82 270.97,411.78 282.12,411.73 293.26,411.67 304.41,411.60 315.55,411.52 326.69,411.44 337.84,411.34 348.98,411.22 360.13,411.09 371.27,410.95 382.41,410.78"/><polyline points="248.69,411.85 259.83,411.82 270.97,411.78 282.12,411.73 293.26,411.67 304.41,411.60 315.55,411.52 326.69,411.44 337.84,411.34 348.98,411.22 360.13,411.09 371.27,410.95 382.41,410.78"/><polyline points="248.69,411.85 259.83,411.82 270.97,411.78 282.12,411.73 293.26,411.67 304.41,411.60 315.55,411.52 326.69,411.44 337.84,411.34 348.98,411.22 360.13,411.09 371.27,410.95 382.41,410.78"/><polyline points="248.69,411.85 259.83,411.82 270.97,411.78 282.12,411.73 293.26,411.67 304.41,411.60 315.55,411.52 326.69,411.44 337.84,411.34 348.98,411.22 360.13,411.09 371.27,410.95 382.41,410.78"/><polyline points="248.69,411.85 259.83,411.82 270.97,411.78 282.12,411.73 293.26,411.67 304.41,411.60 315.55,411.52 326.69,411.44 337.84,411.34 348.98,411.22 360.13,411.09 371.27,410.95 382.41,410.78"/><polyline points="248.69,412.00 259.83,411.99 270.97,411.98 282.12,411.97 293.26,411.96 304.41,411.94 315.55,411.91 326.69,411.89 337.84,411.86 348.98,411.82 360.13,411.78 371.27,411.73 382.41,411.67"/><polyline points="248.69,412.00 259.83,411.99 270.97,411.98 282.12,411.97 293.26,411.96 304.41,411.94 315.55,411.91 326.69,411.89 337.84,411.86 348.98,411.82 360.13,411.78 371.27,411.73 382.41,411.67"/><polyline points="248.69,412.00 259.83,411.99 270.97,411.98 282.12,411.97 293.26,411.96 304.41,411.94 315.55,411.91 326.69,411.89 337.84,411.86 348.98,411.82 360.13,411.78 371.27,411.73 382.41,411.67"/><polyline points="248.69,412.03 259.83,412.03 270.97,412.02 282.12,412.02 293.26,412.01 304.41,412.01 315.55,412.00 326.69,411.99 337.84,411.98 348.98,411.96 360.13,411.95 371.27,411.93 382.41,411.90"/><polyline points="248.69,412.04 259.83,412.04 270.97,412.04 282.12,412.04 293.26,412.04 304.41,412.04 315.55,412.04 326.69,412.04 337.84,412.04 348.98,412.04 360.13,412.04 371.27,412.04 382.41,412.04"/><polyline points="248.69,412.04 259.83,412.04 270.97,412.04 282.12,412.04 293.26,412.04 304.41,412.04 315.55,412.04 326.69,412.04 337.84,412.04 348.98,412.04 360.13,412.04 371.27,412.04 382.41,412.04"/><polyline points="248.69,412.04 259.83,412.04 270.97,412.04 282.12,412.04 293.26,412.04 304.41,412.04 315.55,412.04 326.69,412.04 337.84,412.04 348.98,412.04 360.13,412.04 371.27,412.04 382.41,412.04"/></g>
<polyline points="248.69,331.08 259.83,328.73 270.97,326.34 282.12,323.92 293.26,321.47 304.41,318.99 315.55,316.47 326.69,313.93 337.84,311.36 348.98,308.75 360.13,306.12 371.27,303.47 382.41,300.78" fill="none" stroke="#00BFC4" stroke-width="4.1"/>
<g fill="none" stroke="#F8766D" stroke-opacity="0.2" stroke-width="1.75"><polyline points="432.50,134.24 443.65,129.69 454.81,125.19 465.97,120.71 477.13,116.28 488.29,111.88 499.45,107.51 510.61,103.19 521.77,98.91 532.93,94.66 544.09,90.46 555.25,86.31 566.40,82.19"/><polyline points="432.50,134.24 443.65,129.69 454.81,125.19 465.97,120.71 477.13,116.28 488.29,111.88 499.45,107.51 510.61,103.19 521.77,98.91 532.93,94.66 544.09,90.46 555.25,86.31 566.40,82.19"/><polyline points="432.50,134.24 443.65,129.69 454.81,125.19 465.97,120.71 477.13,116.28 488.29,111.88 499.45,107.51 510.61,103.19 521.77,98.91 532.93,94.66 544.09,90.46 555.25,86.31 566.40,82.19"/><polyline points="432.50,134.24 443.65,129.69 454.81,125.19 465.97,120.71 477.13,116.28 488.29,111.88 499.45,107.51 510.61,103.19 521.77,98.91 532.93,94.66 544.09,90.46 555.25,86.31 566.40,82.19"/><polyline points="432.50,199.18 443.65,194.37 454.81,189.57 465.97,184.77 477.13,179.99 488.29,175.22 499.45,170.46 510.61,165.72 521.77,161.00 532.93,156.30 544.09,151.63 555.25,146.98 566.40,142.35"/><polyline points="432.50,199.18 443.65,194.37 454.81,189.57 465.97,184.77 477.13,179.99 488.29,175.22 499.45,170.46 510.61,165.72 521.77,161.00 532.93,156.30 544.09,151.63 555.25,146.98 566.40,142.35"/><polyline points="432.50,199.18 443.65,194.37 454.81,189.57 465.97,184.77 477.13,179.99 488.29,175.22 499.45,170.46 510.61,165.72 521.77,161.00 532.93,156.30 544.09,151.63 555.25,146.98 566.40,142.35"/><polyline points="432.50,199.18 443.65,194.37 454.81,189.57 465.97,184.77 477.13,179.99 488.29,175.22 499.45,170.46 510.61,165.72 521.77,161.00 532.93,156.30 544.09,151.63 555.25,146.98 566.40,142.35"/><polyline points="432.50,199.18 443.65,194.37 454.81,189.57 465.97,184.77 477.13,179.99 488.29,175.22 499.45,170.46 510.61,165.72 521.77,161.00 532.93,156.30 544.09,151.63 555.25,146.98 566.40,142.35"/><polyline points="432.50,199.18 443.65,194.37 454.81,189.57 465.97,184.77 477.13,179.99 488.29,175.22 499.45,170.46 510.61,165.72 521.77,161.00 532.93,156.30 544.09,151.63 555.25,146.98 566.40,142.35"/><polyline points="432.50,199.18 443.65,194.37 454.81,189.57 465.97,184.77 477.13,179.99 488.29,175.22 499.45,170.46 510.61,165.72 521.77,161.00 532.93,156.30 544.09,151.63 555.25,146.98 566.40,142.35"/><polyline points="432.50,264.40 443.65,259.79 454.81,255.15 465.97,250.47 477.13,245.77 488.29,241.04 499.45,236.30 510.61,231.53 521.77,226.75 532.93,221.96 544.09,217.16 555.25,212.35 566.40,207.54"/><polyline points="432.50,264.40 443.65,259.79 454.81,255.15 465.97,250.47 477.13,245.77 488.29,241.04 499.45,236.30 510.61,231.53 521.77,226.75 532.93,221.96 544.09,217.16 555.25,212.35 566.40,207.54"/><polyline points="432.50,264.40 443.65,259.79 454.81,255.15 465.97,250.47 477.13,245.77 488.29,241.04 499.45,236.30 510.61,231.53 521.77,226.75 532.93,221.96 544.09,217.16 555.25,212.35 566.40,207.54"/><polyline points="432.50,264.40 443.65,259.79 454.81,255.15 465.97,250.47 477.13,245.77 488.29,241.04 499.45,236.30 510.61,231.53 521.77,226.75 532.93,221.96 544.09,217.16 555.25,212.35 566.40,207.54"/><polyline points="432.50,264.40 443.65,259.79 454.81,255.15 465.97,250.47 477.13,245.77 488.29,241.04 499.45,236.30 510.61,231.53 521.77,226.75 532.93,221.96 544.09,217.16 555.25,212.35 566.40,207.54"/><polyline points="432.50,264.40 443.65,259.79 454.81,255.15 465.97,250.47 477.13,245.77 488.29,241.04 499.45,236.30 510.61,231.53 521.77,226.75 532.93,221.96 544.09,217.16 555.25,212.35 566.40,207.54"/><polyline points="432.50,264.40 443.65,259.79 454.81,255.15 465.97,250.47 477.13,245.77 488.29,241.04 499.45,236.30 510.61,231.53 521.77,226.75 532.93,221.96 544.09,217.16 555.25,212.35 566.40,207.54"/><polyline points="432.50,264.40 443.65,259.79 454.81,255.15 465.97,250.47 477.13,245.77 488.29,241.04 499.45,236.30 510.61,231.53 521.77,226.75 532.93,221.96 544.09,217.16 555.25,212.35 566.40,207.54"/><polyline points="432.50,264.40 443.65,259.79 454.81,255.15 465.97,250.47 477.13,245.77 488.29,241.04 499.45,236.30 510.61,231.53 521.77,226.75 532.93,221.96 544.09,217.16 555.25,212.35 566.40,207.54"/><polyline points="432.50,264.40 443.65,259.79 454.81,255.15 465.97,250.47 477.13,245.77 488.29,241.04 499.45,236.30 510.61,231.53 521.77,226.75 532.93,221.96 544.09,217.16 555.25,212.35 566.40,207.54"/><polyline points="432.50,264.40 443.65,259.79 454.81,255.15 465.97,250.47 477.13,245.77 488.29,241.04 499.45,236.30 510.61,231.53 521.77,226.75 532.93,221.96 544.09,217.16 555.25,212.35 566.40,207.54"/><polyline points="432.50,264.40 443.65,259.79 454.81,255.15 465.97,250.47 477.13,245.77 488.29,241.04 499.45,236.30 510.61,231.53 521.77,226.75 532.93,221.96 544.09,217.16 555.25,212.35 566.40,207.54"/><polyline points="432.50,264.40 443.65,259.79 454.81,255.15 465.97,250.47 477.13,245.77 488.29,241.04 499.45,236.30 510.61,231.53 521.77,226.75 532.93,221.96 544.09,217.16 555.25,212.35 566.40,207.54"/><polyline points="432.50,264.40 443.65,259.79 454.81,255.15 465.97,250.47 477.13,245.77 488.29,241.04 499.45,236.30 510.61,231.53 521.77,226.75 532.93,221.96 544.09,217.16 555.25,212.35 566.40,207.54"/><polyline points="432.50,295.12 443.65,290.82 454.81,286.46 465.97,282.05 477.13,277.60 488.29,273.10 499.45,268.56 510.61,263.98 521.77,259.37 532.93,254.72 544.09,250.04 555.25,245.34 566.40,240.61"/><polyline points="432.50,309.91 443.65,305.82 454.81,301.67 465.97,297.46 477.13,293.19 488.29,288.86 499.45,284.48 510.61,280.05 521.77,275.58 532.93,271.06 544.09,266.50 555.25,261.91 566.40,257.27"/><polyline points="432.50,309.91 443.65,305.82 454.81,301.67 465.97,297.46 477.13,293.19 488.29,288.86 499.45,284.48 510.61,280.05 521.77,275.58 532.93,271.06 544.09,266.50 555.25,261.91 566.40,257.27"/><polyline points="432.50,322.76 443.65,318.90 454.81,314.96 465.97,310.96 477.13,306.89 488.29,302.75 499.45,298.56 510.61,294.30 521.77,289.99 532.93,285.62 544.09,281.21 555.25,276.74 566.40,272.24"/><polyline points="432.50,322.76 443.65,318.90 454.81,314.96 465.97,310.96 477.13,306.89 488.29,302.75 499.45,298.56 510.61,294.30 521.77,289.99 532.93,285.62 544.09,281.21 555.25,276.74 566.40,272.24"/><polyline points="432.50,322.76 443.65,318.90 454.81,314.96 465.97,310.96 477.13,306.89 488.29,302.75 499.45,298.56 510.61,294.30 521.77,289.99 532.93,285.62 544.09,281.21 555.25,276.74 566.40,272.24"/><polyline points="432.50,322.76 443.65,318.90 454.81,314.96 465.97,310.96 477.13,306.89 488.29,302.75 499.45,298.56 510.61,294.30 521.77,289.99 532.93,285.62 544.09,281.21 555.25,276.74 566.40,272.24"/><polyline points="432.50,322.76 443.65,318.90 454.81,314.96 465.97,310.96 477.13,306.89 488.29,302.75 499.45,298.56 510.61,294.30 521.77,289.99 532.93,285.62 544.09,281.21 555.25,276.74 566.40,272.24"/><polyline points="432.50,322.76 443.65,318.90 454.81,314.96 465.97,310.96 477.13,306.89 488.29,302.75 499.45,298.56 510.61,294.30 521.77,289.99 532.93,285.62 544.09,281.21 555.25,276.74 566.40,272.24"/><polyline points="432.50,322.76 443.65,318.90 454.81,314.96 465.97,310.96 477.13,306.89 488.29,302.75 499.45,298.56 510.61,294.30 521.77,289.99 532.93,285.62 544.09,281.21 555.25,276.74 566.40,272.24"/><polyline points="432.50,322.76 443.65,318.90 454.81,314.96 465.97,310.96 477.13,306.89 488.29,302.75 499.45,298.56 510.61,294.30 521.77,289.99 532.93,285.62 544.09,281.21 555.25,276.74 566.40,272.24"/><polyline points="432.50,322.76 443.65,318.90 454.81,314.96 465.97,310.96 477.13,306.89 488.29,302.75 499.45,298.56 510.61,294.30 521.77,289.99 532.93,285.62 544.09,281.21 555.25,276.74 566.40,272.24"/><polyline points="432.50,322.76 443.65,318.90 454.81,314.96 465.97,310.96 477.13,306.89 488.29,302.75 499.45,298.56 510.61,294.30 521.77,289.99 532.93,285.62 544.09,281.21 555.25,276.74 566.40,272.24"/><polyline points="432.50,322.76 443.65,318.90 454.81,314.96 465.97,310.96 477.13,306.89 488.29,302.75 499.45,298.56 510.61,294.30 521.77,289.99 532.93,285.62 544.09,281.21 555.25,276.74 566.40,272.24"/><polyline points="432.50,322.76 443.65,318.90 454.81,314.96 465.97,310.96 477.13,306.89 488.29,302.75 499.45,298.56 510.61,294.30 521.77,289.99 532.93,285.62 544.09,281.21 555.25,276.74 566.40,272.24"/><polyline points="432.50,322.76 443.65,318.90 454.81,314.96 465.97,310.96 477.13,306.89 488.29,302.75 499.45,298.56 510.61,294.30 521.77,289.99 532.93,285.62 544.09,281.21 555.25,276.74 566.40,272.24"/><polyline points="432.50,335.98 443.65,332.40 454.81,328.73 465.97,324.99 477.13,321.17 488.29,317.28 499.45,313.32 510.61,309.29 521.77,305.19 532.93,301.03 544.09,296.81 555.25,292.53 566.40,288.19"/><polyline points="432.50,335.98 443.65,332.40 454.81,328.73 465.97,324.99 477.13,321.17 488.29,317.28 499.45,313.32 510.61,309.29 521.77,305.19 532.93,301.03 544.09,296.81 555.25,292.53 566.40,288.19"/><polyline points="432.50,335.98 443.65,332.40 454.81,328.73 465.97,324.99 477.13,321.17 488.29,317.28 499.45,313.32 510.61,309.29 521.77,305.19 532.93,301.03 544.09,296.81 555.25,292.53 566.40,288.19"/><polyline points="432.50,335.98 443.65,332.40 454.81,328.73 465.97,324.99 477.13,321.17 488.29,317.28 499.45,313.32 510.61,309.29 521.77,305.19 532.93,301.03 544.09,296.81 555.25,292.53 566.40,288.19"/><polyline points="432.50,335.98 443.65,332.40 454.81,328.73 465.97,324.99 477.13,321.17 488.29,317.28 499.45,313.32 510.61,309.29 521.77,305.19 532.93,301.03 544.09,296.81 555.25,292.53 566.40,288.19"/><polyline points="432.50,335.98 443.65,332.40 454.81,328.73 465.97,324.99 477.13,321.17 488.29,317.28 499.45,313.32 510.61,309.29 521.77,305.19 532.93,301.03 544.09,296.81 555.25,292.53 566.40,288.19"/><polyline points="432.50,335.98 443.65,332.40 454.81,328.73 465.97,324.99 477.13,321.17 488.29,317.28 499.45,313.32 510.61,309.29 521.77,305.19 532.93,301.03 544.09,296.81 555.25,292.53 566.40,288.19"/><polyline points="432.50,353.99 443.65,350.88 454.81,347.68 465.97,344.39 477.13,341.01 488.29,337.55 499.45,334.00 510.61,330.37 521.77,326.67 532.93,322.88 544.09,319.02 555.25,315.09 566.40,311.09"/><polyline points="432.50,357.98 443.65,354.99 454.81,351.91 465.97,348.73 477.13,345.47 488.29,342.12 499.45,338.69 510.61,335.17 521.77,331.56 532.93,327.88 544.09,324.12 555.25,320.29 566.40,316.38"/><polyline points="432.50,367.50 443.65,364.83 454.81,362.06 465.97,359.20 477.13,356.24 488.29,353.19 499.45,350.06 510.61,346.83 521.77,343.52 532.93,340.12 544.09,336.63 555.25,333.07 566.40,329.42"/><polyline points="432.50,367.50 443.65,364.83 454.81,362.06 465.97,359.20 477.13,356.24 488.29,353.19 499.45,350.06 510.61,346.83 521.77,343.52 532.93,340.12 544.09,336.63 555.25,333.07 566.40,329.42"/><polyline points="432.50,367.50 443.65,364.83 454.81,362.06 465.97,359.20 477.13,356.24 488.29,353.19 499.45,350.06 510.61,346.83 521.77,343.52 532.93,340.12 544.09,336.63 555.25,333.07 566.40,329.42"/><polyline points="432.50,367.50 443.65,364.83 454.81,362.06 465.97,359.20 477.13,356.24 488.29,353.19 499.45,350.06 510.61,346.83 521.77,343.52 532.93,340.12 544.09,336.63 555.25,333.07 566.40,329.42"/><polyline points="432.50,367.50 443.65,364.83 454.81,362.06 465.97,359.20 477.13,356.24 488.29,353.19 499.45,350.06 510.61,346.83 521.77,343.52 532.93,340.12 544.09,336.63 555.25,333.07 566.40,329.42"/><polyline points="432.50,367.50 443.65,364.83 454.81,362.06 465.97,359.20 477.13,356.24 488.29,353.19 499.45,350.06 510.61,346.83 521.77,343.52 532.93,340.12 544.09,336.63 555.25,333.07 566.40,329.42"/><polyline points="432.50,367.50 443.65,364.83 454.81,362.06 465.97,359.20 477.13,356.24 488.29,353.19 499.45,350.06 510.61,346.83 521.77,343.52 532.93,340.12 544.09,336.63 555.25,333.07 566.40,329.42"/><polyline points="432.50,367.50 443.65,364.83 454.81,362.06 465.97,359.20 477.13,356.24 488.29,353.19 499.45,350.06 510.61,346.83 521.77,343.52 532.93,340.12 544.09,336.63 555.25,333.07 566.40,329.42"/><polyline points="432.50,367.50 443.65,364.83 454.81,362.06 465.97,359.20 477.13,356.24 488.29,353.19 499.45,350.06 510.61,346.83 521.77,343.52 532.93,340.12 544.09,336.63 555.25,333.07 566.40,329.42"/><polyline points="432.50,367.50 443.65,364.83 454.81,362.06 465.97,359.20 477.13,356.24 488.29,353.19 499.45,350.06 510.61,346.83 521.77,343.52 532.93,340.12 544.09,336.63 555.25,333.07 566.40,329.42"/><polyline points="432.50,367.50 443.65,364.83 454.81,362.06 465.97,359.20 477.13,356.24 488.29,353.19 499.45,350.06 510.61,346.83 521.77,343.52 532.93,340.12 544.09,336.63 555.25,333.07 566.40,329.42"/><polyline points="432.50,367.50 443.65,364.83 454.81,362.06 465.97,359.20 477.13,356.24 488.29,353.19 499.45,350.06 510.61,346.83 521.77,343.52 532.93,340.12 544.09,336.63 555.25,333.07 566.40,329.42"/><polyline points="432.50,367.50 443.65,364.83 454.81,362.06 465.97,359.20 477.13,356.24 488.29,353.19 499.45,350.06 510.61,346.83 521.77,343.52 532.93,340.12 544.09,336.63 555.25,333.07 566.40,329.42"/><polyline points="432.50,376.23 443.65,373.88 454.81,371.45 465.97,368.92 477.13,366.29 488.29,363.57 499.45,360.76 510.61,357.86 521.77,354.86 532.93,351.77 544.09,348.59 555.25,345.33 566.40,341.98"/><polyline points="432.50,376.23 443.65,373.88 454.81,371.45 465.97,368.92 477.13,366.29 488.29,363.57 499.45,360.76 510.61,357.86 521.77,354.86 532.93,351.77 544.09,348.59 555.25,345.33 566.40,341.98"/><polyline points="432.50,376.23 443.65,373.88 454.81,371.45 465.97,368.92 477.13,366.29 488.29,363.57 499.45,360.76 510.61,357.86 521.77,354.86 532.93,351.77 544.09,348.59 555.25,345.33 566.40,341.98"/><polyline points="432.50,376.23 443.65,373.88 454.81,371.45 465.97,368.92 477.13,366.29 488.29,363.57 499.45,360.76 510.61,357.86 521.77,354.86 532.93,351.77 544.09,348.59 555.25,345.33 566.40,341.98"/><polyline points="432.50,376.23 443.65,373.88 454.81,371.45 465.97,368.92 477.13,366.29 488.29,363.57 499.45,360.76 510.61,357.86 521.77,354.86 532.93,351.77 544.09,348.59 555.25,345.33 566.40,341.98"/><polyline points="432.50,376.23 443.65,373.88 454.81,371.45 465.97,368.92 477.13,366.29 488.29,363.57 499.45,360.76 510.61,357.86 521.77,354.86 532.93,351.77 544.09,348.59 555.25,345.33 566.40,341.98"/><polyline points="432.50,376.23 443.65,373.88 454.81,371.45 465.97,368.92 477.13,366.29 488.29,363.57 499.45,360.76 510.61,357.86 521.77,354.86 532.93,351.77 544.09,348.59 555.25,345.33 566.40,341.98"/><polyline points="432.50,387.37 443.65,385.53 454.81,383.60 465.97,381.58 477.13,379.46 488.29,377.26 499.45,374.96 510.61,372.56 521.77,370.08 532.93,367.49 544.09,364.82 555.25,362.05 566.40,359.18"/><polyline points="432.50,387.37 443.65,385.53 454.81,383.60 465.97,381.58 477.13,379.46 488.29,377.26 499.45,374.96 510.61,372.56 521.77,370.08 532.93,367.49 544.09,364.82 555.25,362.05 566.40,359.18"/><polyline points="432.50,387.37 443.65,385.53 454.81,383.60 465.97,381.58 477.13,379.46 488.29,377.26 499.45,374.96 510.61,372.56 521.77,370.08 532.93,367.49 544.09,364.82 555.25,362.05 566.40,359.18"/><polyline points="432.50,387.37 443.65,385.53 454.81,383.60 465.97,381.58 477.13,379.46 488.29,377.26 499.45,374.96 510.61,372.56 521.77,370.08 532.93,367.49 544.09,364.82 555.25,362.05 566.40,359.18"/><polyline points="432.50,394.86 443.65,393.42 454.81,391.90 465.97,390.30 477.13,388.61 488.29,386.83 499.45,384.96 510.61,383.01 521.77,380.96 532.93,378.82 544.09,376.58 555.25,374.25 566.40,371.83"/><polyline points="432.50,394.86 443.65,393.42 454.81,391.90 465.97,390.30 477.13,388.61 488.29,386.83 499.45,384.96 510.61,383.01 521.77,380.96 532.93,378.82 544.09,376.58 555.25,374.25 566.40,371.83"/><polyline points="432.50,394.86 443.65,393.42 454.81,391.90 465.97,390.30 477.13,388.61 488.29,386.83 499.45,384.96 510.61,383.01 521.77,380.96 532.93,378.82 544.09,376.58 555.25,374.25 566.40,371.83"/><polyline points="432.50,399.37 443.65,398.22 454.81,396.99 465.97,395.68 477.13,394.29 488.29,392.82 499.45,391.27 510.61,389.63 521.77,387.91 532.93,386.09 544.09,384.19 555.25,382.20 566.40,380.11"/><polyline points="432.50,399.37 443.65,398.22 454.81,396.99 465.97,395.68 477.13,394.29 488.29,392.82 499.45,391.27 510.61,389.63 521.77,387.91 532.93,386.09 544.09,384.19 555.25,382.20 566.40,380.11"/><polyline points="432.50,399.37 443.65,398.22 454.81,396.99 465.97,395.68 477.13,394.29 488.29,392.82 499.45,391.27 510.61,389.63 521.77,387.91 532.93,386.09 544.09,384.19 555.25,382.20 566.40,380.11"/><polyline points="432.50,399.37 443.65,398.22 454.81,396.99 465.97,395.68 477.13,394.29 488.29,392.82 499.45,391.27 510.61,389.63 521.77,387.91 532.93,386.09 544.09,384.19 555.25,382.20 566.40,380.11"/><polyline points="432.50,399.37 443.65,398.22 454.81,396.99 465.97,395.68 477.13,394.29 488.29,392.82 499.45,391.27 510.61,389.63 521.77,387.91 532.93,386.09 544.09,384.19 555.25,382.20 566.40,380.11"/><polyline points="432.50,399.37 443.65,398.22 454.81,396.99 465.97,395.68 477.13,394.29 488.29,392.82 499.45,391.27 510.61,389.63 521.77,387.91 532.93,386.09 544.09,384.19 555.25,382.20 566.40,380.11"/><polyline points="432.50,399.37 443.65,398.22 454.81,396.99 465.97,395.68 477.13,394.29 488.29,392.82 499.45,391.27 510.61,389.63 521.77,387.91 532.93,386.09 544.09,384.19 555.25,382.20 566.40,380.11"/><polyline points="432.50,399.37 443.65,398.22 454.81,396.99 465.97,395.68 477.13,394.29 488.29,392.82 499.45,391.27 510.61,389.63 521.77,387.91 532.93,386.09 544.09,384.19 555.25,382.20 566.40,380.11"/><polyline points="432.50,399.37 443.65,398.22 454.81,396.99 465.97,395.68 477.13,394.29 488.29,392.82 499.45,391.27 510.61,389.63 521.77,387.91 532.93,386.09 544.09,384.19 555.25,382.20 566.40,380.11"/><polyline points="432.50,399.37 443.65,398.22 454.81,396.99 465.97,395.68 477.13,394.29 488.29,392.82 499.45,391.27 510.61,389.63 521.77,387.91 532.93,386.09 544.09,384.19 555.25,382.20 566.40,380.11"/><polyline points="432.50,399.37 443.65,398.22 454.81,396.99 465.97,395.68 477.13,394.29 488.29,392.82 499.45,391.27 510.61,389.63 521.77,387.91 532.93,386.09 544.09,384.19 555.25,382.20 566.40,380.11"/><polyline points="432.50,399.37 443.65,398.22 454.81,396.99 465.97,395.68 477.13,394.29 488.29,392.82 499.45,391.27 510.61,389.63 521.77,387.91 532.93,386.09 544.09,384.19 555.25,382.20 566.40,380.11"/><polyline points="432.50,399.37 443.65,398.22 454.81,396.99 465.97,395.68 477.13,394.29 488.29,392.82 499.45,391.27 510.61,389.63 521.77,387.91 532.93,386.09 544.09,384.19 555.25,382.20 566.40,380.11"/><polyline points="432.50,404.45 443.65,403.66 454.81,402.81 465.97,401.89 477.13,400.91 488.29,399.86 499.45,398.74 510.61,397.54 521.77,396.27 532.93,394.92 544.09,393.48 555.25,391.97 566.40,390.37"/><polyline points="432.50,404.45 443.65,403.66 454.81,402.81 465.97,401.89 477.13,400.91 488.29,399.86 499.45,398.74 510.61,397.54 521.77,396.27 532.93,394.92 544.09,393.48 555.25,391.97 566.40,390.37"/><polyline points="432.50,404.45 443.65,403.66 454.81,402.81 465.97,401.89 477.13,400.91 488.29,399.86 499.45,398.74 510.61,397.54 521.77,396.27 532.93,394.92 544.09,393.48 555.25,391.97 566.40,390.37"/><polyline points="432.50,407.45 443.65,406.91 454.81,406.33 465.97,405.69 477.13,405.00 488.29,404.25 499.45,403.45 510.61,402.58 521.77,401.65 532.93,400.65 544.09,399.58 555.25,398.44 566.40,397.22"/><polyline points="432.50,407.45 443.65,406.91 454.81,406.33 465.97,405.69 477.13,405.00 488.29,404.25 499.45,403.45 510.61,402.58 521.77,401.65 532.93,400.65 544.09,399.58 555.25,398.44 566.40,397.22"/><polyline points="432.50,407.45 443.65,406.91 454.81,406.33 465.97,405.69 477.13,405.00 488.29,404.25 499.45,403.45 510.61,402.58 521.77,401.65 532.93,400.65 544.09,399.58 555.25,398.44 566.40,397.22"/><polyline points="432.50,409.02 443.65,408.63 454.81,408.21 465.97,407.74 477.13,407.23 488.29,406.67 499.45,406.07 510.61,405.41 521.77,404.69 532.93,403.92 544.09,403.09 555.25,402.20 566.40,401.24"/><polyline points="432.50,409.02 443.65,408.63 454.81,408.21 465.97,407.74 477.13,407.23 488.29,406.67 499.45,406.07 510.61,405.41 521.77,404.69 532.93,403.92 544.09,403.09 555.25,402.20 566.40,401.24"/><polyline points="432.50,409.02 443.65,408.63 454.81,408.21 465.97,407.74 477.13,407.23 488.29,406.67 499.45,406.07 510.61,405.41 521.77,404.69 532.93,403.92 544.09,403.09 555.25,402.20 566.40,401.24"/><polyline points="432.50,409.02 443.65,408.63 454.81,408.21 465.97,407.74 477.13,407.23 488.29,406.67 499.45,406.07 510.61,405.41 521.77,404.69 532.93,403.92 544.09,403.09 555.25,402.20 566.40,401.24"/><polyline points="432.50,410.55 443.65,410.33 454.81,410.09 465.97,409.81 477.13,409.51 488.29,409.18 499.45,408.81 510.61,408.40 521.77,407.95 532.93,407.46 544.09,406.93 555.25,406.34 566.40,405.71"/><polyline points="432.50,410.55 443.65,410.33 454.81,410.09 465.97,409.81 477.13,409.51 488.29,409.18 499.45,408.81 510.61,408.40 521.77,407.95 532.93,407.46 544.09,406.93 555.25,406.34 566.40,405.71"/><polyline points="432.50,410.55 443.65,410.33 454.81,410.09 465.97,409.81 477.13,409.51 488.29,409.18 499.45,408.81 510.61,408.40 521.77,407.95 532.93,407.46 544.09,406.93 555.25,406.34 566.40,405.71"/><polyline points="432.50,410.55 443.65,410.33 454.81,410.09 465.97,409.81 477.13,409.51 488.29,409.18 499.45,408.81 510.61,408.40 521.77,407.95 532.93,407.46 544.09,406.93 555.25,406.34 566.40,405.71"/><polyline points="432.50,411.29 443.65,411.17 454.81,411.03 465.97,410.87 477.13,410.69 488.29,410.49 499.45,410.27 510.61,410.02 521.77,409.74 532.93,409.43 544.09,409.08 555.25,408.70 566.40,408.28"/><polyline points="432.50,411.29 443.65,411.17 454.81,411.03 465.97,410.87 477.13,410.69 488.29,410.49 499.45,410.27 510.61,410.02 521.77,409.74 532.93,409.43 544.09,409.08 555.25,408.70 566.40,408.28"/><polyline points="432.50,411.29 443.65,411.17 454.81,411.03 465.97,410.87 477.13,410.69 488.29,410.49 499.45,410.27 510.61,410.02 521.77,409.74 532.93,409.43 544.09,409.08 555.25,408.70 566.40,408.28"/><polyline points="432.50,411.29 443.65,411.17 454.81,411.03 465.97,410.87 477.13,410.69 488.29,410.49 499.45,410.27 510.61,410.02 521.77,409.74 532.93,409.43 544.09,409.08 555.25,408.70 566.40,408.28"/><polyline points="432.50,411.29 443.65,411.17 454.81,411.03 465.97,410.87 477.13,410.69 488.29,410.49 499.45,410.27 510.61,410.02 521.77,409.74 532.93,409.43 544.09,409.08 555.25,408.70 566.40,408.28"/><polyline points="432.50,411.29 443.65,411.17 454.81,411.03 465.97,410.87 477.13,410.69 488.29,410.49 499.45,410.27 510.61,410.02 521.77,409.74 532.93,409.43 544.09,409.08 555.25,408.70 566.40,408.28"/><polyline points="432.50,411.62 443.65,411.54 454.81,411.46 465.97,411.36 477.13,411.24 488.29,411.11 499.45,410.96 510.61,410.80 521.77,410.61 532.93,410.40 544.09,410.16 555.25,409.90 566.40,409.61"/><polyline points="432.50,411.62 443.65,411.54 454.81,411.46 465.97,411.36 477.13,411.24 488.29,411.11 499.45,410.96 510.61,410.80 521.77,410.61 532.93,410.40 544.09,410.16 555.25,409.90 566.40,409.61"/><polyline points="432.50,411.62 443.65,411.54 454.81,411.46 465.97,411.36 477.13,411.24 488.29,411.11 499.45,410.96 510.61,410.80 521.77,410.61 532.93,410.40 544.09,410.16 555.25,409.90 566.40,409.61"/><polyline points="432.50,411.62 443.65,411.54 454.81,411.46 465.97,411.36 477.13,411.24 488.29,411.11 499.45,410.96 510.61,410.80 521.77,410.61 532.93,410.40 544.09,410.16 555.25,409.90 566.40,409.61"/><polyline points="432.50,411.62 443.65,411.54 454.81,411.46 465.97,411.36 477.13,411.24 488.29,411.11 499.45,410.96 510.61,410.80 521.77,410.61 532.93,410.40 544.09,410.16 555.25,409.90 566.40,409.61"/><polyline points="432.50,411.62 443.65,411.54 454.81,411.46 465.97,411.36 477.13,411.24 488.29,411.11 499.45,410.96 510.61,410.80 521.77,410.61 532.93,410.40 544.09,410.16 555.25,409.90 566.40,409.61"/><polyline points="432.50,411.62 443.65,411.54 454.81,411.46 465.97,411.36 477.13,411.24 488.29,411.11 499.45,410.96 510.61,410.80 521.77,410.61 532.93,410.40 544.09,410.16 555.25,409.90 566.40,409.61"/><polyline points="432.50,411.62 443.65,411.54 454.81,411.46 465.97,411.36 477.13,411.24 488.29,411.11 499.45,410.96 510.61,410.80 521.77,410.61 532.93,410.40 544.09,410.16 555.25,409.90 566.40,409.61"/><polyline points="432.50,411.88 443.65,411.85 454.81,411.81 465.97,411.77 477.13,411.72 488.29,411.66 499.45,411.59 510.61,411.51 521.77,411.41 532.93,411.31 544.09,411.19 555.25,411.05 566.40,410.90"/><polyline points="432.50,411.88 443.65,411.85 454.81,411.81 465.97,411.77 477.13,411.72 488.29,411.66 499.45,411.59 510.61,411.51 521.77,411.41 532.93,411.31 544.09,411.19 555.25,411.05 566.40,410.90"/><polyline points="432.50,411.88 443.65,411.85 454.81,411.81 465.97,411.77 477.13,411.72 488.29,411.66 499.45,411.59 510.61,411.51 521.77,411.41 532.93,411.31 544.09,411.19 555.25,411.05 566.40,410.90"/><polyline points="432.50,412.01 443.65,412.01 454.81,412.00 465.97,411.99 477.13,411.97 488.29,411.96 499.45,411.94 510.61,411.92 521.77,411.89 532.93,411.86 544.09,411.82 555.25,411.78 566.40,411.73"/><polyline points="432.50,412.01 443.65,412.01 454.81,412.00 465.97,411.99 477.13,411.97 488.29,411.96 499.45,411.94 510.61,411.92 521.77,411.89 532.93,411.86 544.09,411.82 555.25,411.78 566.40,411.73"/><polyline points="432.50,412.01 443.65,412.01 454.81,412.00 465.97,411.99 477.13,411.97 488.29,411.96 499.45,411.94 510.61,411.92 521.77,411.89 532.93,411.86 544.09,411.82 555.25,411.78 566.40,411.73"/><polyline points="432.50,412.01 443.65,412.01 454.81,412.00 465.97,411.99 477.13,411.97 488.29,411.96 499.45,411.94 510.61,411.92 521.77,411.89 532.93,411.86 544.09,411.82 555.25,411.78 566.40,411.73"/><polyline points="432.50,412.01 443.65,412.01 454.81,412.00 465.97,411.99 477.13,411.97 488.29,411.96 499.45,411.94 510.61,411.92 521.77,411.89 532.93,411.86 544.09,411.82 555.25,411.78 566.40,411.73"/><polyline points="432.50,412.01 443.65,412.01 454.81,412.00 465.97,411.99 477.13,411.97 488.29,411.96 499.45,411.94 510.61,411.92 521.77,411.89 532.93,411.86 544.09,411.82 555.25,411.78 566.40,411.73"/><polyline points="432.50,412.01 443.65,412.01 454.81,412.00 465.97,411.99 477.13,411.97 488.29,411.96 499.45,411.94 510.61,411.92 521.77,411.89 532.93,411.86 544.09,411.82 555.25,411.78 566.40,411.73"/><polyline points="432.50,412.03 443.65,412.03 454.81,412.03 465.97,412.02 477.13,412.02 488.29,412.02 499.45,412.01 510.61,412.00 521.77,411.99 532.93,411.98 544.09,411.97 555.25,411.95 566.40,411.93"/><polyline points="432.50,412.03 443.65,412.03 454.81,412.03 465.97,412.02 477.13,412.02 488.29,412.02 499.45,412.01 510.61,412.00 521.77,411.99 532.93,411.98 544.09,411.97 555.25,411.95 566.40,411.93"/><polyline points="432.50,412.03 443.65,412.03 454.81,412.03 465.97,412.02 477.13,412.02 488.29,412.02 499.45,412.01 510.61,412.00 521.77,411.99 532.93,411.98 544.09,411.97 555.25,411.95 566.40,411.93"/><polyline points="432.50,412.03 443.65,412.03 454.81,412.03 465.97,412.02 477.13,412.02 488.29,412.02 499.45,412.01 510.61,412.00 521.77,411.99 532.93,411.98 544.09,411.97 555.25,411.95 566.40,411.93"/><polyline points="432.50,412.03 443.65,412.03 454.81,412.03 465.97,412.02 477.13,412.02 488.29,412.02 499.45,412.01 510.61,412.00 521.77,411.99 532.93,411.98 544.09,411.97 555.25,411.95 566.40,411.93"/><polyline points="432.50,412.04 443.65,412.04 454.81,412.04 465.97,412.04 477.13,412.04 488.29,412.04 499.45,412.04 510.61,412.03 521.77,412.03 532.93,412.03 544.09,412.03 555.25,412.03 566.40,412.02"/><polyline points="432.50,412.04 443.65,412.04 454.81,412.04 465.97,412.04 477.13,412.04 488.29,412.04 499.45,412.04 510.61,412.03 521.77,412.03 532.93,412.03 544.09,412.03 555.25,412.03 566.40,412.02"/><polyline points="432.50,412.04 443.65,412.04 454.81,412.04 465.97,412.04 477.13,412.04 488.29,412.04 499.45,412.04 510.61,412.03 521.77,412.03 532.93,412.03 544.09,412.03 555.25,412.03 566.40,412.02"/><polyline points="432.50,412.04 443.65,412.04 454.81,412.04 465.97,412.04 477.13,412.04 488.29,412.04 499.45,412.04 510.61,412.04 521.77,412.04 532.93,412.04 544.09,412.04 555.25,412.04 566.40,412.04"/><polyline points="432.50,412.04 443.65,412.04 454.81,412.04 465.97,412.04 477.13,412.04 488.29,412.04 499.45,412.04 510.61,412.04 521.77,412.04 532.93,412.04 544.09,412.04 555.25,412.04 566.40,412.04"/><polyline points="432.50,412.04 443.65,412.04 454.81,412.04 465.97,412.04 477.13,412.04 488.29,412.04 499.45,412.04 510.61,412.04 521.77,412.04 532.93,412.04 544.09,412.04 555.25,412.04 566.40,412.04"/><polyline points="432.50,412.04 443.65,412.04 454.81,412.04 465.97,412.04 477.13,412.04 488.29,412.04 499.45,412.04 510.61,412.04 521.77,412.04 532.93,412.04 544.09,412.04 555.25,412.04 566.40,412.04"/></g>
<polyline points="432.50,354.48 443.65,352.42 454.81,350.31 465.97,348.16 477.13,345.96 488.29,343.72 499.45,341.43 510.61,339.10 521.77,336.72 532.93,334.30 544.09,331.84 555.25,329.33 566.40,326.78" fill="none" stroke="#00BFC4" stroke-width="4.1"/>
<text x="57.4" y="24.0" font-size="20.8" fill="#000" text-anchor="start" textLength="241" lengthAdjust="spacing">Survival PDP+ICE for age</text>
<text x="131.2" y="55.5" font-size="13.87" fill="#1a1a1a" text-anchor="middle" textLength="24" lengthAdjust="spacing">100</text>
<text x="81.2" y="445.5" font-size="13.87" fill="#4d4d4d" text-anchor="middle">40</text>
<text x="109.8" y="445.5" font-size="13.87" fill="#4d4d4d" text-anchor="middle">50</text>
<text x="138.3" y="445.5" font-size="13.87" fill="#4d4d4d" text-anchor="middle">60</text>
<text x="166.8" y="445.5" font-size="13.87" fill="#4d4d4d" text-anchor="middle">70</text>
<text x="195.3" y="445.5" font-size="13.87" fill="#4d4d4d" text-anchor="middle">80</text>
<text x="50.0" y="416.8" font-size="13.87" fill="#4d4d4d" text-anchor="end" textLength="20.2" lengthAdjust="spacing">0.0</text>
<text x="50.0" y="338.2" font-size="13.87" fill="#4d4d4d" text-anchor="end" textLength="20.2" lengthAdjust="spacing">0.2</text>
<text x="50.0" y="259.7" font-size="13.87" fill="#4d4d4d" text-anchor="end" textLength="20.2" lengthAdjust="spacing">0.4</text>
<text x="50.0" y="181.1" font-size="13.87" fill="#4d4d4d" text-anchor="end" textLength="20.2" lengthAdjust="spacing">0.6</text>
<text x="50.0" y="102.6" font-size="13.87" fill="#4d4d4d" text-anchor="end" textLength="20.2" lengthAdjust="spacing">0.8</text>
<text x="315.2" y="55.5" font-size="13.87" fill="#1a1a1a" text-anchor="middle" textLength="24" lengthAdjust="spacing">200</text>
<text x="265.4" y="445.5" font-size="13.87" fill="#4d4d4d" text-anchor="middle">40</text>
<text x="293.8" y="445.5" font-size="13.87" fill="#4d4d4d" text-anchor="middle">50</text>
<text x="322.3" y="445.5" font-size="13.87" fill="#4d4d4d" text-anchor="middle">60</text>
<text x="350.7" y="445.5" font-size="13.87" fill="#4d4d4d" text-anchor="middle">70</text>
<text x="379.2" y="445.5" font-size="13.87" fill="#4d4d4d" text-anchor="middle">80</text>
<text x="234.2" y="416.8" font-size="13.87" fill="#4d4d4d" text-anchor="end" textLength="20.2" lengthAdjust="spacing">0.0</text>
<text x="234.2" y="321.2" font-size="13.87" fill="#4d4d4d" text-anchor="end" textLength="20.2" lengthAdjust="spacing">0.2</text>
<text x="234.2" y="225.7" font-size="13.87" fill="#4d4d4d" text-anchor="end" textLength="20.2" lengthAdjust="spacing">0.4</text>
<text x="234.2" y="130.2" font-size="13.87" fill="#4d4d4d" text-anchor="end" textLength="20.2" lengthAdjust="spacing">0.6</text>
<text x="499.2" y="55.5" font-size="13.87" fill="#1a1a1a" text-anchor="middle" textLength="24" lengthAdjust="spacing">300</text>
<text x="449.2" y="445.5" font-size="13.87" fill="#4d4d4d" text-anchor="middle">40</text>
<text x="477.7" y="445.5" font-size="13.87" fill="#4d4d4d" text-anchor="middle">50</text>
<text x="506.2" y="445.5" font-size="13.87" fill="#4d4d4d" text-anchor="middle">60</text>
<text x="534.7" y="445.5" font-size="13.87" fill="#4d4d4d" text-anchor="middle">70</text>
<text x="563.2" y="445.5" font-size="13.87" fill="#4d4d4d" text-anchor="middle">80</text>
<text x="418.0" y="416.8" font-size="13.87" fill="#4d4d4d" text-anchor="end" textLength="20.2" lengthAdjust="spacing">0.0</text>
<text x="418.0" y="304.4" font-size="13.87" fill="#4d4d4d" text-anchor="end" textLength="20.2" lengthAdjust="spacing">0.2</text>
<text x="418.0" y="192.0" font-size="13.87" fill="#4d4d4d" text-anchor="end" textLength="20.2" lengthAdjust="spacing">0.4</text>
<text x="418.0" y="79.6" font-size="13.87" fill="#4d4d4d" text-anchor="end" textLength="20.2" lengthAdjust="spacing">0.6</text>
<text x="315.4" y="467.2" font-size="17.33" fill="#000" text-anchor="middle" textLength="29.9" lengthAdjust="spacing">age</text>
<text transform="translate(21,247.0) rotate(-90)" font-size="17.33" fill="#000" text-anchor="middle" textLength="151.5" lengthAdjust="spacing">Survival Probability</text>
<line x1="601.2" x2="619.7" y1="235.1" y2="235.1" stroke="#F8766D" stroke-width="1.9"/>
<line x1="601.2" x2="619.7" y1="258.2" y2="258.2" stroke="#00BFC4" stroke-width="4.1"/>
<text x="630.3" y="239.7" font-size="13.87" fill="#000" text-anchor="start" textLength="18.5" lengthAdjust="spacing">ice</text>
<text x="630.3" y="262.3" font-size="13.87" fill="#000" text-anchor="start" textLength="24" lengthAdjust="spacing">pdp</text>
</svg>
</body></html>
